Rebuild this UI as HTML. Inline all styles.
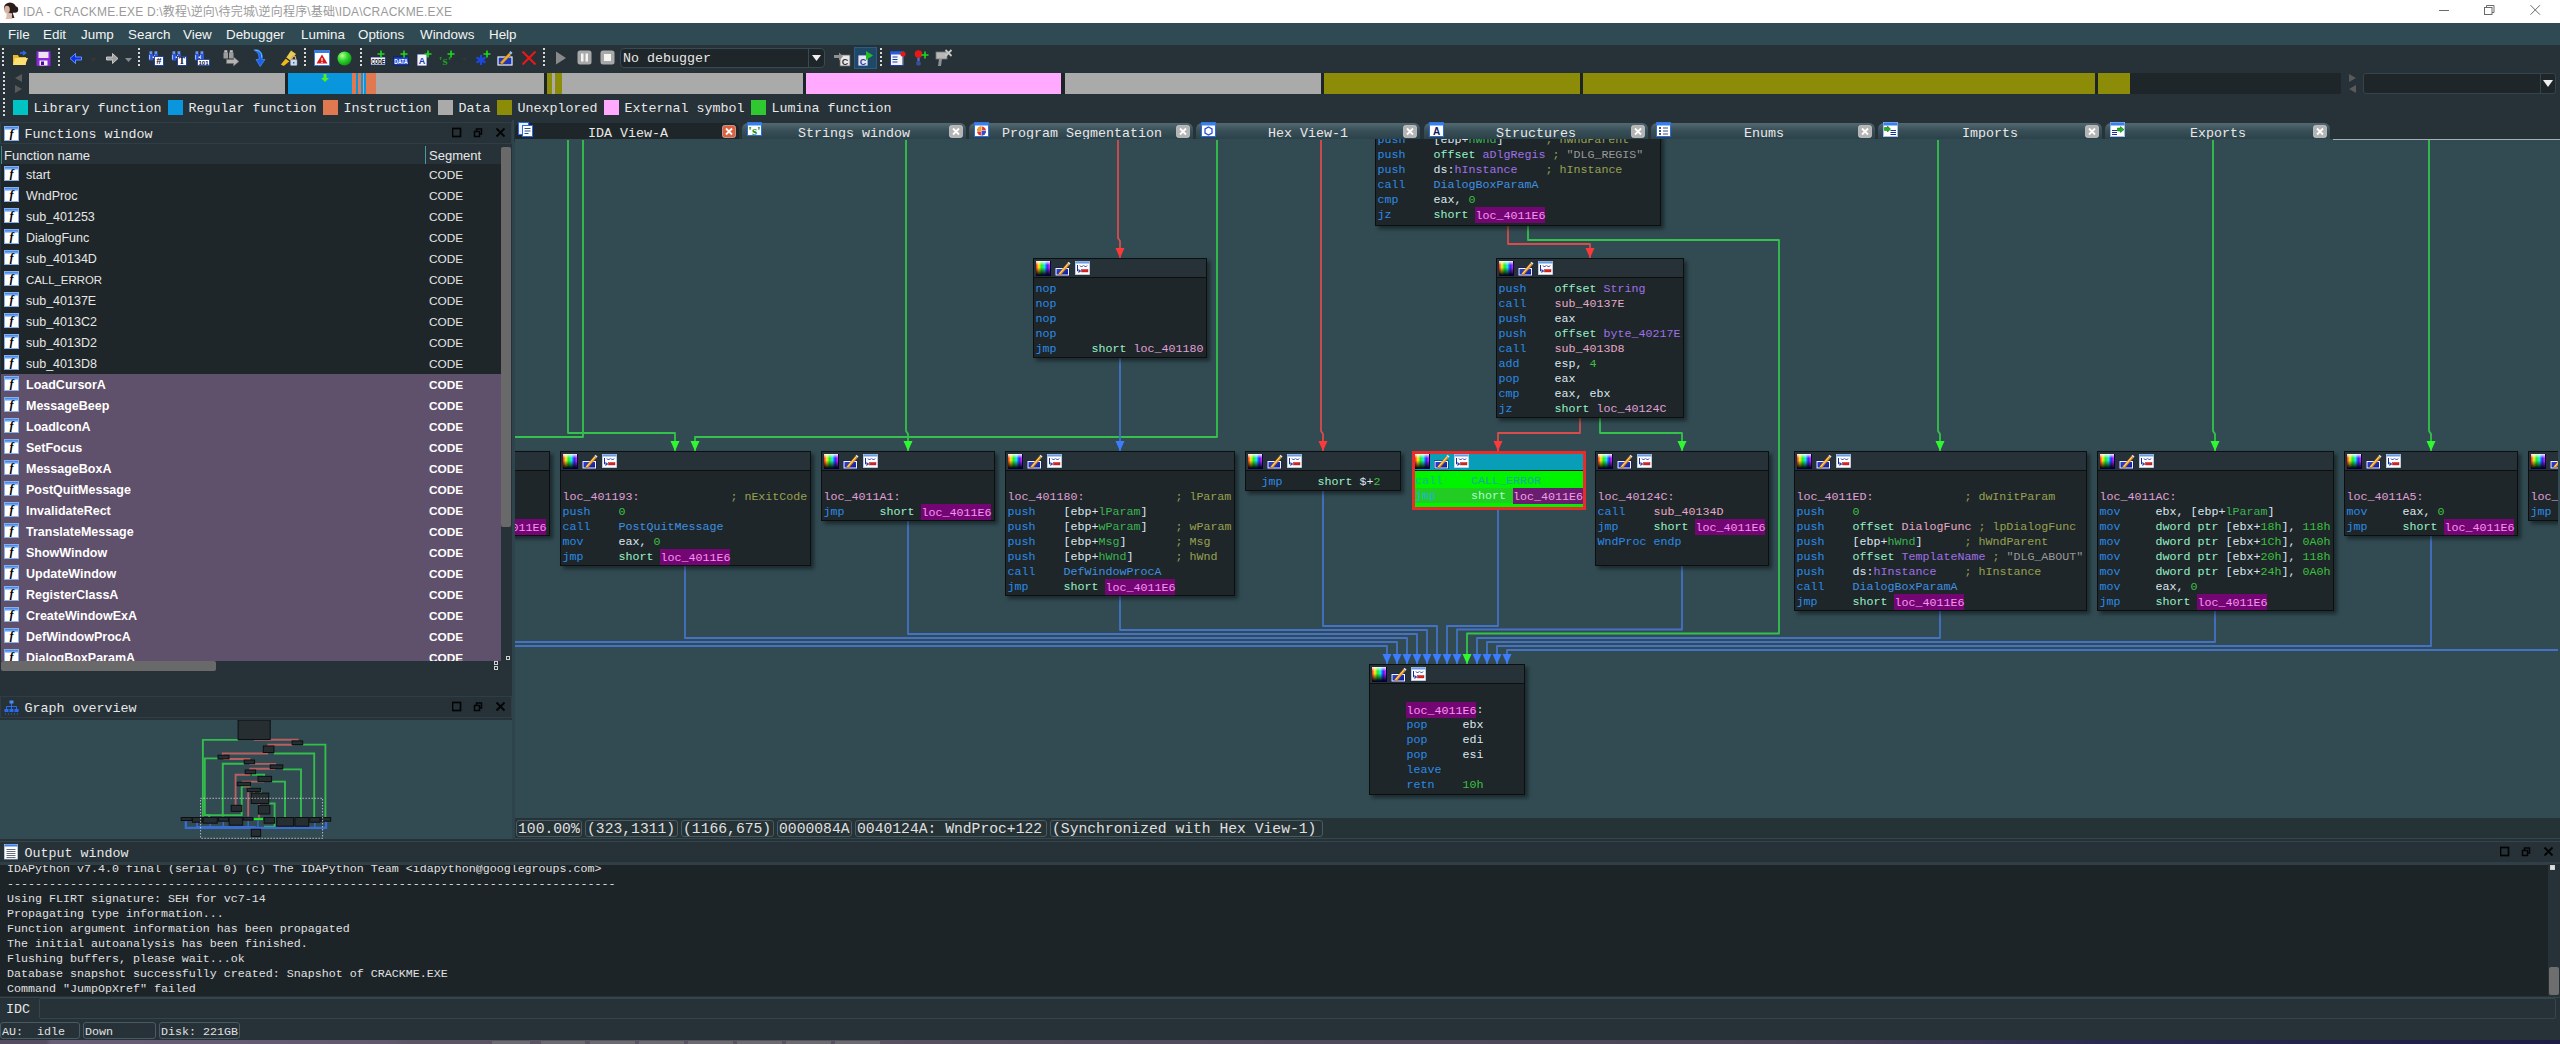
<!DOCTYPE html><html><head><meta charset="utf-8"><title>IDA - CRACKME.EXE</title><style>
*{box-sizing:border-box;margin:0;padding:0}
html,body{width:2560px;height:1044px;overflow:hidden;background:#263238}
body{position:relative;font-family:"Liberation Sans","Noto Sans CJK SC",sans-serif;color:#e6e6e6}
.a{position:absolute}
.sim{font-family:"Liberation Mono","Noto Sans CJK SC",monospace;font-size:13.33px;line-height:16px;color:#e8e8e8;white-space:pre}
.ui{font-family:"Liberation Sans","Noto Sans CJK SC",sans-serif;font-size:13px;white-space:pre}
.code{font-family:"Liberation Mono",monospace;font-size:11.67px;line-height:15px;white-space:pre;color:#dcdcdc}
.node{position:absolute;background:#1e2629;border:1px solid #0b0f10;box-shadow:3px 3px 4px rgba(0,0,0,.45)}
.nh{position:absolute;left:0;top:0;right:0;height:19px;background:#263238;border-bottom:1px solid #0b0f10}
.nb{position:absolute;left:1.5px;top:23px}
.m{color:#2c8ae8}.w{color:#dce6f0}.s{color:#98f0c8}.l{color:#e0a0d8}.h{color:#f894f0;background:#740674;padding:1.5px 0 .5px}
.n{color:#3cc040}.c{color:#98a050}.v{color:#3cb450}.d{color:#a070e8}.f{color:#e8a8c8}.p{color:#4090e0}.g{color:#989898}
.row{position:absolute;left:0;width:501px;height:21px}
.row span{position:absolute;top:3px;font-size:12.5px;line-height:17px}
.sel{background:#5f506b;font-weight:bold;color:#fff}
</style></head><body>
<div class="a" style="left:0px;top:0px;width:2560px;height:23px;background:#ffffff;"></div>
<svg class="a" style="left:1px;top:2px" width="18" height="18" viewBox="0 0 18 18"><ellipse cx="9" cy="6" rx="6" ry="5.500" fill="#2a1c18"/><circle cx="14" cy="7.500" r="3.200" fill="#2a1c18"/><path d="M11 9l2.500 7h-3z" fill="#3a2820"/><ellipse cx="6" cy="7.500" rx="2.800" ry="3.800" fill="#d8b4a0"/><path d="M5 10.500q2 2 4 0l2.500 6.500h-7q2-3 .5-6.500z" fill="#dcbcac"/></svg>
<div class="a ui" style="left:23px;top:4px;font-size:12px;line-height:17px;color:#9a9a9a;letter-spacing:.18px">IDA - CRACKME.EXE D:\教程\逆向\待完城\逆向程序\基础\IDA\CRACKME.EXE</div>
<svg class="a" style="left:2430px;top:0" width="130" height="23" viewBox="0 0 130 23" fill="none" stroke="#6a6a6a" stroke-width="1"><path d="M9 10.500h10"/><rect x="54.500" y="7.500" width="7.500" height="7"/><path d="M56.500 7.500v-2h7.500v7h-2"/><path d="M100.500 5.200l9.500 9.500M110 5.200l-9.500 9.500"/></svg>
<div class="a" style="left:0px;top:23px;width:2560px;height:23px;background:#2f4a52;border-bottom:1px solid #22343a"></div>
<div class="a ui" style="left:8px;top:26px;font-size:13.400px;line-height:17px;color:#f4f4f4">File</div>
<div class="a ui" style="left:43px;top:26px;font-size:13.400px;line-height:17px;color:#f4f4f4">Edit</div>
<div class="a ui" style="left:81px;top:26px;font-size:13.400px;line-height:17px;color:#f4f4f4">Jump</div>
<div class="a ui" style="left:128px;top:26px;font-size:13.400px;line-height:17px;color:#f4f4f4">Search</div>
<div class="a ui" style="left:183px;top:26px;font-size:13.400px;line-height:17px;color:#f4f4f4">View</div>
<div class="a ui" style="left:226px;top:26px;font-size:13.400px;line-height:17px;color:#f4f4f4">Debugger</div>
<div class="a ui" style="left:301px;top:26px;font-size:13.400px;line-height:17px;color:#f4f4f4">Lumina</div>
<div class="a ui" style="left:358px;top:26px;font-size:13.400px;line-height:17px;color:#f4f4f4">Options</div>
<div class="a ui" style="left:420px;top:26px;font-size:13.400px;line-height:17px;color:#f4f4f4">Windows</div>
<div class="a ui" style="left:489px;top:26px;font-size:13.400px;line-height:17px;color:#f4f4f4">Help</div>
<div class="a" style="left:0px;top:46px;width:2560px;height:24px;background:#263238;"></div>
<div class="a" style="left:0px;top:70px;width:2560px;height:26px;background:#263238;"></div>
<div class="a" style="left:0px;top:96px;width:2560px;height:24px;background:#263238;"></div>
<div class="a" style="left:2px;top:48px;width:2px;height:20px;background:repeating-linear-gradient(to bottom,#d8d8d8 0 2px,transparent 2px 4px)"></div>
<div class="a" style="left:58px;top:48px;width:2px;height:20px;background:repeating-linear-gradient(to bottom,#d8d8d8 0 2px,transparent 2px 4px)"></div>
<div class="a" style="left:138px;top:48px;width:2px;height:20px;background:repeating-linear-gradient(to bottom,#d8d8d8 0 2px,transparent 2px 4px)"></div>
<div class="a" style="left:304px;top:48px;width:2px;height:20px;background:repeating-linear-gradient(to bottom,#d8d8d8 0 2px,transparent 2px 4px)"></div>
<div class="a" style="left:360px;top:48px;width:2px;height:20px;background:repeating-linear-gradient(to bottom,#d8d8d8 0 2px,transparent 2px 4px)"></div>
<div class="a" style="left:543px;top:48px;width:2px;height:20px;background:repeating-linear-gradient(to bottom,#d8d8d8 0 2px,transparent 2px 4px)"></div>
<div class="a" style="left:880px;top:48px;width:2px;height:20px;background:repeating-linear-gradient(to bottom,#d8d8d8 0 2px,transparent 2px 4px)"></div>
<div class="a" style="left:3px;top:72px;width:2px;height:22px;background:repeating-linear-gradient(to bottom,#d8d8d8 0 2px,transparent 2px 4px)"></div>
<div class="a" style="left:3px;top:98px;width:2px;height:20px;background:repeating-linear-gradient(to bottom,#d8d8d8 0 2px,transparent 2px 4px)"></div>
<svg class="a" style="left:12px;top:50px" width="17" height="17" viewBox="0 0 17 17"><path d="M1 5h5l1 2h7v8H1z" fill="#e8b82c"/><path d="M3 8h13l-3 7H1z" fill="#ffe070"/><path d="M8 3h5M11 1l2.500 2-2.500 2" stroke="#2a6cf0" stroke-width="1.500" fill="none"/></svg>
<svg class="a" style="left:36px;top:50px" width="15" height="17" viewBox="0 0 15 17"><rect x="0.500" y="1" width="14" height="15" rx="1" fill="#8a28d8"/><rect x="2.500" y="2" width="10" height="6" fill="#f0e0f4"/><rect x="3.500" y="10.500" width="8" height="5" fill="#f4f0f8"/><rect x="5" y="11.500" width="3" height="3.500" fill="#4a1090"/></svg>
<svg class="a" style="left:69px;top:52px" width="14" height="13" viewBox="0 0 14 13"><path d="M1 6.500L6.500 1.500v3.500h6v3h-6V11.500z" fill="#1030e8" stroke="#6a9cff" stroke-width=".9"/></svg>
<svg class="a" style="left:90px;top:58px" width="8" height="5" viewBox="0 0 8 5"><path d="M0 0h7L3.500 4z" fill="#3a3434"/></svg>
<svg class="a" style="left:105px;top:52px" width="14" height="13" viewBox="0 0 14 13"><path d="M13 6.500L7.500 1.500v3.500h-6v3h6V11.500z" fill="#a0a0a0" stroke="#d0d0d0" stroke-width=".9"/></svg>
<svg class="a" style="left:125px;top:58px" width="8" height="5" viewBox="0 0 8 5"><path d="M0 0h7L3.500 4z" fill="#8a8a8a"/></svg>
<svg class="a" style="left:148px;top:49px" width="17" height="18" viewBox="0 0 17 18"><path d="M.8 5h4.200v6.500H.8zM5.800 5h4.200v6.500H5.800z" fill="#2c54d8"/><path d="M1.500 2.300h2.800V5H1.500zM6.500 2.300h2.800V5H6.500z" fill="#6c94f0"/><path d="M1.600 6v4.500M6.600 6v4.500" stroke="#a8c8ff" stroke-width="1"/><rect x="4.600" y="7.500" width="1.600" height="1.600" fill="#e8f0ff"/><rect x="6.500" y="7.500" width="9" height="9" fill="#ffffff" stroke="#1c3c9c" stroke-width=".9"/><text x="11" y="15.300" font-family="Liberation Sans" font-weight="bold" font-size="9.500" text-anchor="middle" fill="#0c1440">#</text></svg>
<svg class="a" style="left:171px;top:49px" width="17" height="18" viewBox="0 0 17 18"><path d="M.8 5h4.200v6.500H.8zM5.800 5h4.200v6.500H5.800z" fill="#2c54d8"/><path d="M1.500 2.300h2.800V5H1.500zM6.500 2.300h2.800V5H6.500z" fill="#6c94f0"/><path d="M1.600 6v4.500M6.600 6v4.500" stroke="#a8c8ff" stroke-width="1"/><rect x="4.600" y="7.500" width="1.600" height="1.600" fill="#e8f0ff"/><rect x="6.500" y="7.500" width="9" height="9" fill="#ffffff" stroke="#1c3c9c" stroke-width=".9"/><text x="11" y="15.300" font-family="Liberation Serif" font-weight="bold" font-size="9.500" text-anchor="middle" fill="#0c1440">T</text></svg>
<svg class="a" style="left:194px;top:49px" width="17" height="18" viewBox="0 0 17 18"><path d="M.8 5h4.200v6.500H.8zM5.800 5h4.200v6.500H5.800z" fill="#2c54d8"/><path d="M1.500 2.300h2.800V5H1.500zM6.500 2.300h2.800V5H6.500z" fill="#6c94f0"/><path d="M1.600 6v4.500M6.600 6v4.500" stroke="#a8c8ff" stroke-width="1"/><rect x="4.600" y="7.500" width="1.600" height="1.600" fill="#e8f0ff"/><rect x="3.500" y="10.500" width="12" height="6" fill="#ffffff" stroke="#1c3c9c" stroke-width=".8"/><text x="9.500" y="15.600" font-family="Liberation Sans" font-weight="bold" font-size="6" text-anchor="middle" fill="#0c1440">101</text></svg>
<svg class="a" style="left:223px;top:49px" width="17" height="18" viewBox="0 0 17 18"><path d="M.5 3.500h4.500v6H.5zM6 3.500h4.500v6H6z" fill="#9c9c9c"/><path d="M1.300 1.300h3v2.200h-3zM6.800 1.300h3v2.200h-3z" fill="#c4c4c4"/><path d="M3.500 10.500h7v-2.500l5.500 4.500-5.500 4.500v-2.500h-7z" fill="#b4b4b4" stroke="#6c6c6c" stroke-width=".7"/></svg>
<svg class="a" style="left:253px;top:48px" width="14" height="20" viewBox="0 0 14 20"><path d="M.8 2c6-1.500 9.500 3 8.200 9.500h3l-4.800 7-4.200-7h2.800c.8-4.500-1-7.500-5-9.500z" fill="#1c60f0" stroke="#58a0ff" stroke-width=".6"/><path d="M2.500 2.300c4 .2 6.500 3 6.200 7.500" stroke="#60c8ff" stroke-width="1" fill="none"/></svg>
<svg class="a" style="left:280px;top:49px" width="18" height="18" viewBox="0 0 18 18"><path d="M.8 15.500l5.500-6.500 3.500 3-6 5z" fill="#f0b818"/><path d="M6 9l5-7.500 5 3.500-6 7z" fill="#e8cc50"/><path d="M6 9l4 3" stroke="#2a2410" stroke-width="1.200"/><rect x="10.500" y="10.500" width="6.500" height="6" rx=".8" fill="#c8d8f0" stroke="#8898b8" stroke-width=".5"/><path d="M12 10.500V9a1.800 1.800 0 0 1 3.600 0v1.500" fill="none" stroke="#d0b070" stroke-width="1.200"/><rect x="13.300" y="13" width="1" height="1.500" fill="#203060"/></svg>
<svg class="a" style="left:314px;top:50px" width="16" height="16" viewBox="0 0 16 16"><rect x=".5" y=".5" width="15" height="15" fill="#ffffff" stroke="#3a7ce0"/><rect x=".5" y=".5" width="15" height="2.500" fill="#3a7ce0"/><path d="M8 4.500l5.500 9h-11z" fill="#d81818"/><rect x="7.400" y="8" width="1.200" height="3" fill="#fff"/><rect x="7.400" y="11.800" width="1.200" height="1.200" fill="#fff"/></svg>
<svg class="a" style="left:337px;top:51px" width="15" height="15" viewBox="0 0 15 15"><defs><radialGradient id="gb" cx=".35" cy=".3" r=".8"><stop offset="0" stop-color="#b8ff90"/><stop offset=".45" stop-color="#30d830"/><stop offset="1" stop-color="#0a8a10"/></radialGradient></defs><circle cx="7.500" cy="7.500" r="7" fill="url(#gb)"/></svg>
<svg class="a" style="left:370px;top:49px" width="17" height="18" viewBox="0 0 17 18"><rect x=".5" y="8" width="15" height="8" fill="#f4f4f4" stroke="#1c2c6c" stroke-width=".8"/><text x="8" y="15" font-family="Liberation Sans" font-weight="bold" font-size="7" text-anchor="middle" fill="#080c20" textLength="13.500" lengthAdjust="spacingAndGlyphs">CODE</text><path d="M11 1.5v7M7.5 5.0h7" stroke="#20d820" stroke-width="1.600" fill="none"/></svg>
<svg class="a" style="left:393px;top:49px" width="17" height="18" viewBox="0 0 17 18"><rect x=".5" y="8" width="15" height="8" fill="#1c48d8" stroke="#0c1c6c" stroke-width=".8"/><text x="8" y="15" font-family="Liberation Sans" font-weight="bold" font-size="7" text-anchor="middle" fill="#ffffff" textLength="13.500" lengthAdjust="spacingAndGlyphs">DATA</text><path d="M11 1.5v7M7.5 5.0h7" stroke="#20d820" stroke-width="1.600" fill="none"/></svg>
<svg class="a" style="left:416px;top:49px" width="17" height="18" viewBox="0 0 17 18"><rect x="1" y="5" width="10" height="12" fill="#f4f4f4" stroke="#1c2c6c" stroke-width=".8"/><text x="6" y="15" font-family="Liberation Sans" font-weight="bold" font-size="9" text-anchor="middle" fill="#1c3cb0">A</text><path d="M12 1.5v7M8.5 5.0h7" stroke="#20d820" stroke-width="1.600" fill="none"/></svg>
<svg class="a" style="left:439px;top:49px" width="17" height="18" viewBox="0 0 17 18"><text x="6" y="16" font-family="Liberation Serif" font-weight="bold" font-size="13.500" text-anchor="middle" fill="#1c9c1c">'s'</text><path d="M12 1.5v7M8.5 5.0h7" stroke="#20d820" stroke-width="1.600" fill="none"/></svg>
<svg class="a" style="left:462px;top:58px" width="6" height="4" viewBox="0 0 6 4"><path d="M0 0h5L2.500 3z" fill="#303838"/></svg>
<svg class="a" style="left:475px;top:49px" width="17" height="18" viewBox="0 0 17 18"><path d="M6 6v10M1.500 8.500l9 5M1.500 13.500l9-5" stroke="#1c48e0" stroke-width="2.200" fill="none"/><path d="M12 1.5v7M8.5 5.0h7" stroke="#20d820" stroke-width="1.600" fill="none"/></svg>
<svg class="a" style="left:497px;top:49px" width="17" height="18" viewBox="0 0 17 18"><rect x="1" y="8" width="14" height="8" fill="#1c38b8" stroke="#f0f0f8" stroke-width="1.200"/><path d="M3 13.500l9-9.500 2 2-9 9.500z" fill="#f0a828" stroke="#905010" stroke-width=".5"/><path d="M12 4l1.500-2 2 1.800-1.500 2z" fill="#90c8f8"/></svg>
<svg class="a" style="left:521px;top:50px" width="16" height="16" viewBox="0 0 16 16"><path d="M1.500 1.500l13 13M14.500 1.500l-13 13" stroke="#e81818" stroke-width="2.200" fill="none"/></svg>
<svg class="a" style="left:555px;top:51px" width="12" height="14" viewBox="0 0 12 14"><path d="M1 0.500L11 7 1 13.500z" fill="#8a8a8a"/></svg>
<svg class="a" style="left:577px;top:50px" width="15" height="15" viewBox="0 0 15 15"><rect x=".5" y=".5" width="14" height="14" rx="2.500" fill="#a8a8a8"/><rect x="4" y="3.500" width="2.500" height="8" fill="#f4f4f4"/><rect x="8.500" y="3.500" width="2.500" height="8" fill="#f4f4f4"/></svg>
<svg class="a" style="left:600px;top:50px" width="15" height="15" viewBox="0 0 15 15"><rect x=".5" y=".5" width="14" height="14" rx="2.500" fill="#a8a8a8"/><rect x="4" y="4" width="7" height="7" fill="#f4f4f4"/></svg>
<div class="a" style="left:620px;top:48px;width:205px;height:20px;background:#1e2629;border:1px solid #3a4a52;border-radius:4px"></div>
<div class="a sim" style="left:623px;top:51px;">No debugger</div>
<div class="a" style="left:808px;top:49px;width:1px;height:18px;background:#3a4a52"></div>
<svg class="a" style="left:812px;top:55px" width="10" height="7" viewBox="0 0 10 7"><path d="M0 0h9L4.500 6z" fill="#f0f0f0"/></svg>
<svg class="a" style="left:834px;top:50px" width="17" height="17" viewBox="0 0 17 17"><rect x="6" y="5" width="10" height="11" fill="#e8e8e8" stroke="#606060" stroke-width=".8"/><text x="11" y="14.500" font-family="Liberation Sans" font-weight="bold" font-size="9" text-anchor="middle" fill="#303030">C</text><path d="M0 5h5V2.500l4 4-4 4V8H0z" fill="#909090"/></svg>
<div class="a" style="left:854px;top:47px;width:23px;height:22px;background:#1e4868;border:1px solid #2c5a80"></div>
<svg class="a" style="left:857px;top:50px" width="17" height="17" viewBox="0 0 17 17"><rect x="1" y="5" width="10" height="11" fill="#e8e8e8" stroke="#204090" stroke-width=".8"/><text x="6" y="14.500" font-family="Liberation Sans" font-weight="bold" font-size="9" text-anchor="middle" fill="#1c3cb0">C</text><path d="M9 1l7 4.500-7 4.500z" fill="#20c020"/></svg>
<svg class="a" style="left:890px;top:50px" width="17" height="17" viewBox="0 0 17 17"><rect x=".5" y="1.500" width="13" height="14" fill="#f4f4f4" stroke="#1c3cb0" stroke-width="1"/><rect x=".5" y="1.500" width="13" height="3" fill="#2a5cd8"/><path d="M2.500 7h5M2.500 9.500h5M2.500 12h5" stroke="#1c3cb0" stroke-width="1.200"/><circle cx="13" cy="4" r="2.600" fill="#e81818"/><rect x="12.300" y="6" width="1.400" height="9" fill="#606878"/></svg>
<svg class="a" style="left:914px;top:49px" width="16" height="18" viewBox="0 0 16 18"><circle cx="4.500" cy="5" r="3.800" fill="#e81818"/><rect x="3.300" y="8.500" width="2.400" height="4" fill="#5a6cb0"/><rect x="2.300" y="12.500" width="4.400" height="4" rx="1" fill="#3a4c9c"/><path d="M11 2.5v7M7.5 6.0h7" stroke="#20d820" stroke-width="1.600" fill="none"/></svg>
<svg class="a" style="left:935px;top:49px" width="18" height="18" viewBox="0 0 18 18"><rect x="1" y="3" width="11" height="7" fill="#b8b8b8" stroke="#787878" stroke-width=".8"/><path d="M4 10h3l-1 7H3z" fill="#909090"/><path d="M10.500 1l6 6M16.500 1l-6 6" stroke="#c8c8c8" stroke-width="1.800"/></svg>
<svg class="a" style="left:14px;top:74px" width="9" height="20" viewBox="0 0 9 20"><path d="M8 0v8L1 4z" fill="#5a5a5a"/><path d="M1 11v8l7-4z" fill="#5a5a5a"/></svg>
<div class="a" style="left:29px;top:73px;width:2312px;height:21px;background:#1c2428;"></div>
<div class="a" style="left:29px;top:73px;width:256px;height:21px;background:#aaaaaa;"></div>
<div class="a" style="left:288px;top:73px;width:64px;height:21px;background:#0a96dc;"></div>
<div class="a" style="left:352px;top:73px;width:4px;height:21px;background:#e07850;"></div>
<div class="a" style="left:356px;top:73px;width:2px;height:21px;background:#0a96dc;"></div>
<div class="a" style="left:358px;top:73px;width:3px;height:21px;background:#e07850;"></div>
<div class="a" style="left:361px;top:73px;width:2px;height:21px;background:#0a96dc;"></div>
<div class="a" style="left:363px;top:73px;width:1px;height:21px;background:#aaaaaa;"></div>
<div class="a" style="left:364px;top:73px;width:2px;height:21px;background:#0a96dc;"></div>
<div class="a" style="left:366px;top:73px;width:10px;height:21px;background:#e07850;"></div>
<div class="a" style="left:376px;top:73px;width:168px;height:21px;background:#aaaaaa;"></div>
<div class="a" style="left:547px;top:73px;width:5px;height:21px;background:#8c8c08;"></div>
<div class="a" style="left:552px;top:73px;width:3px;height:21px;background:#aaaaaa;"></div>
<div class="a" style="left:555px;top:73px;width:7px;height:21px;background:#8c8c08;"></div>
<div class="a" style="left:562px;top:73px;width:241px;height:21px;background:#aaaaaa;"></div>
<div class="a" style="left:806px;top:73px;width:255px;height:21px;background:#ffaaff;"></div>
<div class="a" style="left:1065px;top:73px;width:256px;height:21px;background:#aaaaaa;"></div>
<div class="a" style="left:1324px;top:73px;width:256px;height:21px;background:#8c8c08;"></div>
<div class="a" style="left:1583px;top:73px;width:512px;height:21px;background:#8c8c08;"></div>
<div class="a" style="left:2098px;top:73px;width:32px;height:21px;background:#8c8c08;"></div>
<div class="a" style="left:2130px;top:73px;width:211px;height:21px;background:#1e2629;"></div>
<svg class="a" style="left:321px;top:74px" width="8" height="8" viewBox="0 0 8 8"><path d="M2.500 0h3v4H8L4 8 0 4h2.500z" fill="#50f020"/></svg>
<svg class="a" style="left:2348px;top:74px" width="9" height="20" viewBox="0 0 9 20"><path d="M1 0v8l7-4z" fill="#5a5a5a"/><path d="M8 11v8l-7-4z" fill="#5a5a5a"/></svg>
<div class="a" style="left:2363px;top:73px;width:193px;height:21px;background:#1e2629;border:1px solid #34444c;border-radius:3px"></div>
<div class="a" style="left:2540px;top:74px;width:1px;height:19px;background:#34444c"></div>
<svg class="a" style="left:2543px;top:80px" width="11" height="8" viewBox="0 0 11 8"><path d="M0 0h10L5 7z" fill="#f0f0f0"/></svg>
<div class="a" style="left:13px;top:100px;width:15px;height:15px;background:#00c4c4;"></div>
<div class="a sim" style="left:33.5px;top:101px;">Library function</div>
<div class="a" style="left:168.0px;top:100px;width:15px;height:15px;background:#0a96dc;"></div>
<div class="a sim" style="left:188.5px;top:101px;">Regular function</div>
<div class="a" style="left:323.0px;top:100px;width:15px;height:15px;background:#e07850;"></div>
<div class="a sim" style="left:343.5px;top:101px;">Instruction</div>
<div class="a" style="left:438.0px;top:100px;width:15px;height:15px;background:#aaaaaa;"></div>
<div class="a sim" style="left:458.5px;top:101px;">Data</div>
<div class="a" style="left:497.0px;top:100px;width:15px;height:15px;background:#8c8c08;"></div>
<div class="a sim" style="left:517.5px;top:101px;">Unexplored</div>
<div class="a" style="left:604.0px;top:100px;width:15px;height:15px;background:#ffaaff;"></div>
<div class="a sim" style="left:624.5px;top:101px;">External symbol</div>
<div class="a" style="left:751.0px;top:100px;width:15px;height:15px;background:#30c830;"></div>
<div class="a sim" style="left:771.5px;top:101px;">Lumina function</div>
<div class="a" style="left:0px;top:120px;width:515px;height:720px;background:#263238;"></div>
<div class="a" style="left:512px;top:120px;width:3px;height:720px;background:#2e444c;"></div>
<div class="a" style="left:0px;top:122px;width:512px;height:22px;background:#263238;border:1px solid #2e3e44"></div>
<div class="a" style="left:4px;top:126px;width:15px;height:15px;background:linear-gradient(#3a7ce8 0,#7ab4f8 2px,#fff 3.5px);border:1px solid #8ab0ec;color:#000;font:italic bold 12px/11px 'Liberation Serif',serif;text-align:center;padding-top:2px;overflow:hidden">f</div>
<div class="a sim" style="left:24.5px;top:126.5px;">Functions window</div>
<svg class="a" style="left:452px;top:127px" width="56" height="12" viewBox="0 0 56 12"><rect x=".5" y="1.500" width="8" height="8" fill="none" stroke="#040404" stroke-width="1.700"/><path d="M22.500 4.500h5v5h-5zM24.500 4.500v-2.500h5v5h-2" fill="none" stroke="#040404" stroke-width="1.500"/><path d="M44.500 1.500l8 8M52.500 1.500l-8 8" stroke="#040404" stroke-width="1.800" fill="none"/></svg>
<div class="a" style="left:1px;top:146px;width:500px;height:18px;background:#263238;border-left:1px solid #3c8c8c"></div>
<div class="a ui" style="left:4px;top:148px;font-size:13px;line-height:16px;color:#e8e8e8">Function name</div>
<div class="a" style="left:425px;top:146px;width:1px;height:18px;background:#4a9c9c;"></div>
<div class="a ui" style="left:429px;top:148px;font-size:13px;line-height:16px;color:#e8e8e8">Segment</div>
<div class="a" style="left:1px;top:164px;width:500px;height:497px;background:#1e2629;overflow:hidden">
<div class="row" style="top:0px"><div class="a" style="left:3px;top:2px;width:15px;height:15px;background:linear-gradient(#3a7ce8 0,#7ab4f8 2px,#fff 3.5px);border:1px solid #8ab0ec;color:#000;font:italic bold 12px/11px 'Liberation Serif',serif;text-align:center;padding-top:2px;overflow:hidden">f</div><span style="left:25px">start</span><span style="left:428px;font-size:11.800px">CODE</span></div>
<div class="row" style="top:21px"><div class="a" style="left:3px;top:2px;width:15px;height:15px;background:linear-gradient(#3a7ce8 0,#7ab4f8 2px,#fff 3.5px);border:1px solid #8ab0ec;color:#000;font:italic bold 12px/11px 'Liberation Serif',serif;text-align:center;padding-top:2px;overflow:hidden">f</div><span style="left:25px">WndProc</span><span style="left:428px;font-size:11.800px">CODE</span></div>
<div class="row" style="top:42px"><div class="a" style="left:3px;top:2px;width:15px;height:15px;background:linear-gradient(#3a7ce8 0,#7ab4f8 2px,#fff 3.5px);border:1px solid #8ab0ec;color:#000;font:italic bold 12px/11px 'Liberation Serif',serif;text-align:center;padding-top:2px;overflow:hidden">f</div><span style="left:25px">sub_401253</span><span style="left:428px;font-size:11.800px">CODE</span></div>
<div class="row" style="top:63px"><div class="a" style="left:3px;top:2px;width:15px;height:15px;background:linear-gradient(#3a7ce8 0,#7ab4f8 2px,#fff 3.5px);border:1px solid #8ab0ec;color:#000;font:italic bold 12px/11px 'Liberation Serif',serif;text-align:center;padding-top:2px;overflow:hidden">f</div><span style="left:25px">DialogFunc</span><span style="left:428px;font-size:11.800px">CODE</span></div>
<div class="row" style="top:84px"><div class="a" style="left:3px;top:2px;width:15px;height:15px;background:linear-gradient(#3a7ce8 0,#7ab4f8 2px,#fff 3.5px);border:1px solid #8ab0ec;color:#000;font:italic bold 12px/11px 'Liberation Serif',serif;text-align:center;padding-top:2px;overflow:hidden">f</div><span style="left:25px">sub_40134D</span><span style="left:428px;font-size:11.800px">CODE</span></div>
<div class="row" style="top:105px"><div class="a" style="left:3px;top:2px;width:15px;height:15px;background:linear-gradient(#3a7ce8 0,#7ab4f8 2px,#fff 3.5px);border:1px solid #8ab0ec;color:#000;font:italic bold 12px/11px 'Liberation Serif',serif;text-align:center;padding-top:2px;overflow:hidden">f</div><span style="left:25px;font-size:11.400px">CALL_ERROR</span><span style="left:428px;font-size:11.800px">CODE</span></div>
<div class="row" style="top:126px"><div class="a" style="left:3px;top:2px;width:15px;height:15px;background:linear-gradient(#3a7ce8 0,#7ab4f8 2px,#fff 3.5px);border:1px solid #8ab0ec;color:#000;font:italic bold 12px/11px 'Liberation Serif',serif;text-align:center;padding-top:2px;overflow:hidden">f</div><span style="left:25px">sub_40137E</span><span style="left:428px;font-size:11.800px">CODE</span></div>
<div class="row" style="top:147px"><div class="a" style="left:3px;top:2px;width:15px;height:15px;background:linear-gradient(#3a7ce8 0,#7ab4f8 2px,#fff 3.5px);border:1px solid #8ab0ec;color:#000;font:italic bold 12px/11px 'Liberation Serif',serif;text-align:center;padding-top:2px;overflow:hidden">f</div><span style="left:25px">sub_4013C2</span><span style="left:428px;font-size:11.800px">CODE</span></div>
<div class="row" style="top:168px"><div class="a" style="left:3px;top:2px;width:15px;height:15px;background:linear-gradient(#3a7ce8 0,#7ab4f8 2px,#fff 3.5px);border:1px solid #8ab0ec;color:#000;font:italic bold 12px/11px 'Liberation Serif',serif;text-align:center;padding-top:2px;overflow:hidden">f</div><span style="left:25px">sub_4013D2</span><span style="left:428px;font-size:11.800px">CODE</span></div>
<div class="row" style="top:189px"><div class="a" style="left:3px;top:2px;width:15px;height:15px;background:linear-gradient(#3a7ce8 0,#7ab4f8 2px,#fff 3.5px);border:1px solid #8ab0ec;color:#000;font:italic bold 12px/11px 'Liberation Serif',serif;text-align:center;padding-top:2px;overflow:hidden">f</div><span style="left:25px">sub_4013D8</span><span style="left:428px;font-size:11.800px">CODE</span></div>
<div class="row sel" style="top:210px"><div class="a" style="left:3px;top:2px;width:15px;height:15px;background:linear-gradient(#3a7ce8 0,#7ab4f8 2px,#fff 3.5px);border:1px solid #8ab0ec;color:#000;font:italic bold 12px/11px 'Liberation Serif',serif;text-align:center;padding-top:2px;overflow:hidden">f</div><span style="left:25px">LoadCursorA</span><span style="left:428px;font-size:11.800px">CODE</span></div>
<div class="row sel" style="top:231px"><div class="a" style="left:3px;top:2px;width:15px;height:15px;background:linear-gradient(#3a7ce8 0,#7ab4f8 2px,#fff 3.5px);border:1px solid #8ab0ec;color:#000;font:italic bold 12px/11px 'Liberation Serif',serif;text-align:center;padding-top:2px;overflow:hidden">f</div><span style="left:25px">MessageBeep</span><span style="left:428px;font-size:11.800px">CODE</span></div>
<div class="row sel" style="top:252px"><div class="a" style="left:3px;top:2px;width:15px;height:15px;background:linear-gradient(#3a7ce8 0,#7ab4f8 2px,#fff 3.5px);border:1px solid #8ab0ec;color:#000;font:italic bold 12px/11px 'Liberation Serif',serif;text-align:center;padding-top:2px;overflow:hidden">f</div><span style="left:25px">LoadIconA</span><span style="left:428px;font-size:11.800px">CODE</span></div>
<div class="row sel" style="top:273px"><div class="a" style="left:3px;top:2px;width:15px;height:15px;background:linear-gradient(#3a7ce8 0,#7ab4f8 2px,#fff 3.5px);border:1px solid #8ab0ec;color:#000;font:italic bold 12px/11px 'Liberation Serif',serif;text-align:center;padding-top:2px;overflow:hidden">f</div><span style="left:25px">SetFocus</span><span style="left:428px;font-size:11.800px">CODE</span></div>
<div class="row sel" style="top:294px"><div class="a" style="left:3px;top:2px;width:15px;height:15px;background:linear-gradient(#3a7ce8 0,#7ab4f8 2px,#fff 3.5px);border:1px solid #8ab0ec;color:#000;font:italic bold 12px/11px 'Liberation Serif',serif;text-align:center;padding-top:2px;overflow:hidden">f</div><span style="left:25px">MessageBoxA</span><span style="left:428px;font-size:11.800px">CODE</span></div>
<div class="row sel" style="top:315px"><div class="a" style="left:3px;top:2px;width:15px;height:15px;background:linear-gradient(#3a7ce8 0,#7ab4f8 2px,#fff 3.5px);border:1px solid #8ab0ec;color:#000;font:italic bold 12px/11px 'Liberation Serif',serif;text-align:center;padding-top:2px;overflow:hidden">f</div><span style="left:25px">PostQuitMessage</span><span style="left:428px;font-size:11.800px">CODE</span></div>
<div class="row sel" style="top:336px"><div class="a" style="left:3px;top:2px;width:15px;height:15px;background:linear-gradient(#3a7ce8 0,#7ab4f8 2px,#fff 3.5px);border:1px solid #8ab0ec;color:#000;font:italic bold 12px/11px 'Liberation Serif',serif;text-align:center;padding-top:2px;overflow:hidden">f</div><span style="left:25px">InvalidateRect</span><span style="left:428px;font-size:11.800px">CODE</span></div>
<div class="row sel" style="top:357px"><div class="a" style="left:3px;top:2px;width:15px;height:15px;background:linear-gradient(#3a7ce8 0,#7ab4f8 2px,#fff 3.5px);border:1px solid #8ab0ec;color:#000;font:italic bold 12px/11px 'Liberation Serif',serif;text-align:center;padding-top:2px;overflow:hidden">f</div><span style="left:25px">TranslateMessage</span><span style="left:428px;font-size:11.800px">CODE</span></div>
<div class="row sel" style="top:378px"><div class="a" style="left:3px;top:2px;width:15px;height:15px;background:linear-gradient(#3a7ce8 0,#7ab4f8 2px,#fff 3.5px);border:1px solid #8ab0ec;color:#000;font:italic bold 12px/11px 'Liberation Serif',serif;text-align:center;padding-top:2px;overflow:hidden">f</div><span style="left:25px">ShowWindow</span><span style="left:428px;font-size:11.800px">CODE</span></div>
<div class="row sel" style="top:399px"><div class="a" style="left:3px;top:2px;width:15px;height:15px;background:linear-gradient(#3a7ce8 0,#7ab4f8 2px,#fff 3.5px);border:1px solid #8ab0ec;color:#000;font:italic bold 12px/11px 'Liberation Serif',serif;text-align:center;padding-top:2px;overflow:hidden">f</div><span style="left:25px">UpdateWindow</span><span style="left:428px;font-size:11.800px">CODE</span></div>
<div class="row sel" style="top:420px"><div class="a" style="left:3px;top:2px;width:15px;height:15px;background:linear-gradient(#3a7ce8 0,#7ab4f8 2px,#fff 3.5px);border:1px solid #8ab0ec;color:#000;font:italic bold 12px/11px 'Liberation Serif',serif;text-align:center;padding-top:2px;overflow:hidden">f</div><span style="left:25px">RegisterClassA</span><span style="left:428px;font-size:11.800px">CODE</span></div>
<div class="row sel" style="top:441px"><div class="a" style="left:3px;top:2px;width:15px;height:15px;background:linear-gradient(#3a7ce8 0,#7ab4f8 2px,#fff 3.5px);border:1px solid #8ab0ec;color:#000;font:italic bold 12px/11px 'Liberation Serif',serif;text-align:center;padding-top:2px;overflow:hidden">f</div><span style="left:25px">CreateWindowExA</span><span style="left:428px;font-size:11.800px">CODE</span></div>
<div class="row sel" style="top:462px"><div class="a" style="left:3px;top:2px;width:15px;height:15px;background:linear-gradient(#3a7ce8 0,#7ab4f8 2px,#fff 3.5px);border:1px solid #8ab0ec;color:#000;font:italic bold 12px/11px 'Liberation Serif',serif;text-align:center;padding-top:2px;overflow:hidden">f</div><span style="left:25px">DefWindowProcA</span><span style="left:428px;font-size:11.800px">CODE</span></div>
<div class="row sel" style="top:483px"><div class="a" style="left:3px;top:2px;width:15px;height:15px;background:linear-gradient(#3a7ce8 0,#7ab4f8 2px,#fff 3.5px);border:1px solid #8ab0ec;color:#000;font:italic bold 12px/11px 'Liberation Serif',serif;text-align:center;padding-top:2px;overflow:hidden">f</div><span style="left:25px">DialogBoxParamA</span><span style="left:428px;font-size:11.800px">CODE</span></div>
</div>
<div class="a" style="left:501px;top:146px;width:10px;height:514px;background:#263238;"></div>
<div class="a" style="left:501px;top:147px;width:10px;height:380px;background:#696969;border-radius:2px"></div>
<svg class="a" style="left:506px;top:656px" width="5" height="5" viewBox="0 0 5 5"><rect x=".5" y=".5" width="3" height="3" fill="none" stroke="#d0d0d0"/></svg>
<div class="a" style="left:1px;top:661px;width:500px;height:10px;background:#263238;"></div>
<div class="a" style="left:1px;top:661px;width:215px;height:10px;background:#696969;border-radius:2px"></div>
<svg class="a" style="left:494px;top:661px" width="5" height="10" viewBox="0 0 5 10"><rect x=".5" y=".5" width="3" height="3" fill="none" stroke="#d0d0d0"/><rect x=".5" y="5.500" width="3" height="3" fill="none" stroke="#d0d0d0"/></svg>
<div class="a" style="left:0px;top:696px;width:512px;height:22px;background:#263238;border:1px solid #2e3e44"></div>
<svg class="a" style="left:4px;top:700px" width="15" height="15" viewBox="0 0 15 15"><path d="M7.500 3v3M2.500 9V6.500h10V9M7.500 6.500V9" stroke="#2a6cf0" fill="none"/><rect x="5.500" y="0.500" width="4" height="3" fill="#4a8cf0"/><rect x="0.500" y="9" width="4" height="3" fill="#2a6cf0"/><rect x="5.500" y="9" width="4" height="3" fill="#2a6cf0"/><rect x="10.500" y="9" width="4" height="3" fill="#2a6cf0"/><path d="M1 14h1M4 14h1M7 14h1M10 14h1M13 14h1" stroke="#2a6cf0"/></svg>
<div class="a sim" style="left:24.5px;top:701px;">Graph overview</div>
<svg class="a" style="left:452px;top:701px" width="56" height="12" viewBox="0 0 56 12"><rect x=".5" y="1.500" width="8" height="8" fill="none" stroke="#040404" stroke-width="1.700"/><path d="M22.500 4.500h5v5h-5zM24.500 4.500v-2.500h5v5h-2" fill="none" stroke="#040404" stroke-width="1.500"/><path d="M44.500 1.500l8 8M52.500 1.500l-8 8" stroke="#040404" stroke-width="1.800" fill="none"/></svg>
<div class="a" style="left:0px;top:720px;width:512px;height:119px;background:#324b53;"></div>
<svg class="a" style="left:0px;top:720px" width="512" height="119" viewBox="0 0 512 119"><path d="M238.1 19.9 L202.9 19.9 L202.9 96.5" stroke="#34bc4c" stroke-width="1.9" fill="none"/><path d="M218.4 38.4 L204.8 38.4 L204.8 95.1 L209.2 95.1 L209.2 97.1" stroke="#34bc4c" stroke-width="1.9" fill="none"/><path d="M244.2 43.7 L222.8 43.7 L222.8 96.5" stroke="#34bc4c" stroke-width="1.9" fill="none"/><path d="M302.7 24.6 L325.4 24.6 L325.4 97.1" stroke="#34bc4c" stroke-width="1.9" fill="none"/><path d="M273.8 33.5 L314.2 33.5 L314.2 97.1" stroke="#34bc4c" stroke-width="1.9" fill="none"/><path d="M282.8 49.4 L301.0 49.4 L301.0 97.1" stroke="#34bc4c" stroke-width="1.9" fill="none"/><path d="M271.6 61.6 L285.0 61.6 L285.0 97.1" stroke="#34bc4c" stroke-width="1.9" fill="none"/><path d="M250.5 66.6 L241.7 66.6 L241.7 95.1 L205.2 95.1" stroke="#34bc4c" stroke-width="1.9" fill="none"/><path d="M251.9 54.7 L264.1 54.7 L264.1 56.3" stroke="#34bc4c" stroke-width="1.9" fill="none"/><path d="M268.7 83.5 L274.6 83.5 L274.6 106.7 L264.1 106.7" stroke="#34bc4c" stroke-width="1.9" fill="none"/><path d="M260.6 69.7 L260.6 73.1" stroke="#34bc4c" stroke-width="1.9" fill="none"/><path d="M253.9 19.7 L297.6 19.7 L297.6 20.9" stroke="#b86060" stroke-width="1.9" fill="none"/><path d="M292.5 24.8 L268.5 24.8 L268.5 26.0" stroke="#b86060" stroke-width="1.9" fill="none"/><path d="M268.1 33.5 L222.8 33.5 L222.8 35.2" stroke="#b86060" stroke-width="1.9" fill="none"/><path d="M223.4 39.0 L249.4 39.0 L249.4 40.0" stroke="#b86060" stroke-width="1.9" fill="none"/><path d="M249.4 43.9 L275.2 43.9 L275.2 44.9" stroke="#b86060" stroke-width="1.9" fill="none"/><path d="M275.2 48.8 L250.3 48.8 L250.3 50.0" stroke="#b86060" stroke-width="1.9" fill="none"/><path d="M250.3 54.7 L235.6 54.7 L235.6 85.3" stroke="#b86060" stroke-width="1.9" fill="none"/><path d="M264.1 61.6 L242.7 61.6 L242.7 62.2" stroke="#b86060" stroke-width="1.9" fill="none"/><path d="M243.8 66.0 L248.2 66.0 L248.2 96.5" stroke="#b86060" stroke-width="1.9" fill="none"/><path d="M253.9 71.5 L253.9 73.1" stroke="#b86060" stroke-width="1.9" fill="none"/><path d="M259.0 83.5 L259.0 85.3" stroke="#b86060" stroke-width="1.9" fill="none"/><path d="M259.0 94.5 L259.0 97.5" stroke="#b86060" stroke-width="1.9" fill="none"/><path d="M185.9 101.2 L185.9 107.9 L326.0 107.9 L326.0 101.6" stroke="#3a6cd0" stroke-width="2.4" fill="none"/><path d="M197.0 102.2 L197.0 106.7 L254.9 106.7 L254.9 109.3" stroke="#3a6cd0" stroke-width="1.6" fill="none"/><path d="M210.2 103.2 L210.2 106.7" stroke="#3a6cd0" stroke-width="1.4" fill="none"/><path d="M223.4 101.6 L223.4 106.7" stroke="#3a6cd0" stroke-width="1.4" fill="none"/><path d="M235.6 105.2 L235.6 107.9" stroke="#3a6cd0" stroke-width="1.4" fill="none"/><path d="M248.2 100.6 L248.2 106.7" stroke="#3a6cd0" stroke-width="1.4" fill="none"/><path d="M258.0 100.6 L258.0 109.3" stroke="#3a6cd0" stroke-width="1.4" fill="none"/><path d="M285.0 106.3 L285.0 107.9" stroke="#3a6cd0" stroke-width="1.4" fill="none"/><path d="M301.6 106.3 L301.6 107.9" stroke="#3a6cd0" stroke-width="1.4" fill="none"/><path d="M314.8 102.2 L314.8 107.9" stroke="#3a6cd0" stroke-width="1.4" fill="none"/><rect x="238.1" y="0.0" width="32.1" height="19.5" fill="#262e31" stroke="#0c1012" stroke-width="1"/><rect x="292.1" y="20.9" width="10.6" height="3.7" fill="#262e31" stroke="#0c1012" stroke-width="1"/><rect x="263.3" y="26.0" width="10.6" height="6.5" fill="#262e31" stroke="#0c1012" stroke-width="1"/><rect x="218.0" y="35.2" width="11.0" height="3.7" fill="#262e31" stroke="#0c1012" stroke-width="1"/><rect x="244.2" y="40.0" width="10.4" height="3.7" fill="#262e31" stroke="#0c1012" stroke-width="1"/><rect x="270.2" y="44.9" width="12.6" height="3.7" fill="#262e31" stroke="#0c1012" stroke-width="1"/><rect x="245.2" y="50.0" width="10.4" height="3.7" fill="#262e31" stroke="#0c1012" stroke-width="1"/><rect x="258.0" y="56.3" width="13.6" height="5.3" fill="#262e31" stroke="#0c1012" stroke-width="1"/><rect x="237.3" y="62.2" width="13.2" height="3.5" fill="#262e31" stroke="#0c1012" stroke-width="1"/><rect x="247.2" y="68.3" width="13.4" height="3.3" fill="#262e31" stroke="#0c1012" stroke-width="1"/><rect x="251.3" y="73.1" width="17.5" height="10.4" fill="#262e31" stroke="#0c1012" stroke-width="1"/><rect x="231.2" y="85.3" width="10.6" height="6.1" fill="#262e31" stroke="#0c1012" stroke-width="1"/><rect x="258.4" y="85.3" width="11.4" height="8.7" fill="#262e31" stroke="#0c1012" stroke-width="1"/><rect x="181.2" y="97.5" width="10.8" height="3.0" fill="#262e31" stroke="#0c1012" stroke-width="1"/><rect x="192.4" y="97.5" width="9.8" height="4.7" fill="#262e31" stroke="#0c1012" stroke-width="1"/><rect x="203.1" y="97.5" width="14.2" height="5.7" fill="#262e31" stroke="#0c1012" stroke-width="1"/><rect x="218.4" y="97.5" width="10.2" height="3.7" fill="#262e31" stroke="#0c1012" stroke-width="1"/><rect x="229.1" y="97.5" width="13.6" height="7.7" fill="#262e31" stroke="#0c1012" stroke-width="1"/><rect x="243.3" y="97.5" width="9.5" height="2.6" fill="#262e31" stroke="#0c1012" stroke-width="1"/><rect x="264.1" y="97.5" width="10.6" height="5.7" fill="#262e31" stroke="#0c1012" stroke-width="1"/><rect x="276.7" y="97.5" width="16.9" height="8.7" fill="#262e31" stroke="#0c1012" stroke-width="1"/><rect x="294.9" y="97.5" width="13.8" height="8.7" fill="#262e31" stroke="#0c1012" stroke-width="1"/><rect x="309.8" y="97.5" width="10.2" height="4.7" fill="#262e31" stroke="#0c1012" stroke-width="1"/><rect x="320.9" y="97.5" width="9.8" height="3.7" fill="#262e31" stroke="#0c1012" stroke-width="1"/><rect x="251.3" y="109.3" width="9.3" height="7.1" fill="#262e31" stroke="#0c1012" stroke-width="1"/><rect x="253.9" y="98.1" width="9.1" height="2.0" fill="#20f020"/><rect x="200.6" y="78.3" width="122" height="40" fill="none" stroke="#f0f0f0" stroke-width="1" stroke-dasharray="1 2"/></svg>
<div class="a" style="left:514px;top:120px;width:2046px;height:22px;background:#263238;"></div>
<div class="a" style="left:515px;top:123px;width:224px;height:16px;background:#1e2629;border-radius:6px 6px 0 0"></div>
<svg class="a" style="left:518px;top:122px" width="16" height="16" viewBox="0 0 16 16"><rect x="0.500" y="0.500" width="10" height="12" fill="#eaf2ff" stroke="#2a6ce0"/><rect x="4.500" y="3.500" width="10" height="11" fill="#ffffff" stroke="#2a6ce0"/><path d="M6.500 6.500h6M6.500 9h6M6.500 11.500h4" stroke="#305080"/></svg>
<div class="a sim" style="left:588px;top:126px;">IDA View-A</div>
<svg class="a" style="left:722px;top:125px" width="14" height="13" viewBox="0 0 14 13"><rect x=".5" y=".5" width="13" height="12" rx="2" fill="#e0603c" stroke="#f0f0f0" stroke-opacity=".5"/><path d="M4 3.500l6 6M10 3.500l-6 6" stroke="#fff" stroke-width="1.800"/></svg>
<div class="a" style="left:742px;top:123px;width:224px;height:16px;background:linear-gradient(#546a72,#3a5058 45%,#2c424a);border-radius:6px 6px 0 0"></div>
<svg class="a" style="left:746.5px;top:122px" width="16" height="16" viewBox="0 0 16 16"><rect x="0.500" y="0.500" width="14" height="13" fill="#ffffff" stroke="#2a6ce0"/><rect x="0.500" y="0.500" width="14" height="3" fill="#3a80e8"/><text x="7.500" y="12.500" font-family="Liberation Serif" font-weight="bold" font-size="13" text-anchor="middle" fill="#189018">'s'</text></svg>
<div class="a sim" style="left:798px;top:126px;">Strings window</div>
<svg class="a" style="left:949px;top:125px" width="14" height="13" viewBox="0 0 14 13"><rect x=".5" y=".5" width="13" height="12" rx="2" fill="#b4b4b4" stroke="#f0f0f0" stroke-opacity=".5"/><path d="M4 3.500l6 6M10 3.500l-6 6" stroke="#fff" stroke-width="1.800"/></svg>
<div class="a" style="left:969px;top:123px;width:224px;height:16px;background:linear-gradient(#546a72,#3a5058 45%,#2c424a);border-radius:6px 6px 0 0"></div>
<svg class="a" style="left:973.5px;top:122px" width="16" height="16" viewBox="0 0 16 16"><rect x="0.500" y="0.500" width="14" height="14" fill="#ffffff" stroke="#2a6ce0"/><rect x="0.500" y="0.500" width="14" height="3" fill="#3a80e8"/><circle cx="7.500" cy="9" r="4.500" fill="#e03030"/><path d="M7.500 4.500v9M3 9h9" stroke="#fff" stroke-width="1.200"/><path d="M7.500 9h4.500a4.500 4.500 0 0 1-4.500 4.500z" fill="#2a50d8"/><path d="M7.500 9V4.500A4.500 4.500 0 0 0 3 9z" fill="#f0a020"/></svg>
<div class="a sim" style="left:1002px;top:126px;">Program Segmentation</div>
<svg class="a" style="left:1176px;top:125px" width="14" height="13" viewBox="0 0 14 13"><rect x=".5" y=".5" width="13" height="12" rx="2" fill="#b4b4b4" stroke="#f0f0f0" stroke-opacity=".5"/><path d="M4 3.500l6 6M10 3.500l-6 6" stroke="#fff" stroke-width="1.800"/></svg>
<div class="a" style="left:1196px;top:123px;width:224px;height:16px;background:linear-gradient(#546a72,#3a5058 45%,#2c424a);border-radius:6px 6px 0 0"></div>
<svg class="a" style="left:1200.5px;top:122px" width="16" height="16" viewBox="0 0 16 16"><rect x="0.500" y="0.500" width="14" height="14" fill="#ffffff" stroke="#2a6ce0"/><rect x="0.500" y="0.500" width="14" height="3" fill="#3a80e8"/><path d="M7.500 5l3.500 2v4l-3.500 2-3.500-2V7z" fill="none" stroke="#2a50d8" stroke-width="1.300"/></svg>
<div class="a sim" style="left:1268px;top:126px;">Hex View-1</div>
<svg class="a" style="left:1403px;top:125px" width="14" height="13" viewBox="0 0 14 13"><rect x=".5" y=".5" width="13" height="12" rx="2" fill="#b4b4b4" stroke="#f0f0f0" stroke-opacity=".5"/><path d="M4 3.500l6 6M10 3.500l-6 6" stroke="#fff" stroke-width="1.800"/></svg>
<div class="a" style="left:1424px;top:123px;width:224px;height:16px;background:linear-gradient(#546a72,#3a5058 45%,#2c424a);border-radius:6px 6px 0 0"></div>
<svg class="a" style="left:1428.5px;top:122px" width="16" height="16" viewBox="0 0 16 16"><rect x="0.500" y="0.500" width="14" height="14" fill="#ffffff" stroke="#2a6ce0"/><rect x="0.500" y="0.500" width="14" height="3" fill="#3a80e8"/><text x="7.500" y="13" font-family="Liberation Sans" font-weight="bold" font-size="10" text-anchor="middle" fill="#102060">A</text></svg>
<div class="a sim" style="left:1496px;top:126px;">Structures</div>
<svg class="a" style="left:1631px;top:125px" width="14" height="13" viewBox="0 0 14 13"><rect x=".5" y=".5" width="13" height="12" rx="2" fill="#b4b4b4" stroke="#f0f0f0" stroke-opacity=".5"/><path d="M4 3.500l6 6M10 3.500l-6 6" stroke="#fff" stroke-width="1.800"/></svg>
<div class="a" style="left:1651px;top:123px;width:224px;height:16px;background:linear-gradient(#546a72,#3a5058 45%,#2c424a);border-radius:6px 6px 0 0"></div>
<svg class="a" style="left:1655.5px;top:122px" width="16" height="16" viewBox="0 0 16 16"><rect x="0.500" y="0.500" width="14" height="14" fill="#ffffff" stroke="#2a6ce0"/><rect x="0.500" y="0.500" width="14" height="3" fill="#3a80e8"/><path d="M3 6h2M3 9h2M3 12h2" stroke="#102060" stroke-width="1.500"/><path d="M7 6h5M7 9h5M7 12h5" stroke="#305080"/></svg>
<div class="a sim" style="left:1744px;top:126px;">Enums</div>
<svg class="a" style="left:1858px;top:125px" width="14" height="13" viewBox="0 0 14 13"><rect x=".5" y=".5" width="13" height="12" rx="2" fill="#b4b4b4" stroke="#f0f0f0" stroke-opacity=".5"/><path d="M4 3.500l6 6M10 3.500l-6 6" stroke="#fff" stroke-width="1.800"/></svg>
<div class="a" style="left:1878px;top:123px;width:224px;height:16px;background:linear-gradient(#546a72,#3a5058 45%,#2c424a);border-radius:6px 6px 0 0"></div>
<svg class="a" style="left:1882.5px;top:122px" width="16" height="16" viewBox="0 0 16 16"><rect x="0.500" y="0.500" width="14" height="14" fill="#ffffff" stroke="#9cc0f0"/><rect x="0.500" y="0.500" width="14" height="3" fill="#3a80e8"/><path d="M7.500 8.500h5.500M7.500 10.500h5.500M7.500 12.500h5.500" stroke="#1c2c9c" stroke-width="1"/><path d="M1.500 5.500h3V4l3 3-3 3V8.500h-3z" fill="#20b020" stroke="#0a600a" stroke-width=".5"/></svg>
<div class="a sim" style="left:1962px;top:126px;">Imports</div>
<svg class="a" style="left:2085px;top:125px" width="14" height="13" viewBox="0 0 14 13"><rect x=".5" y=".5" width="13" height="12" rx="2" fill="#b4b4b4" stroke="#f0f0f0" stroke-opacity=".5"/><path d="M4 3.500l6 6M10 3.500l-6 6" stroke="#fff" stroke-width="1.800"/></svg>
<div class="a" style="left:2105px;top:123px;width:225px;height:16px;background:linear-gradient(#546a72,#3a5058 45%,#2c424a);border-radius:6px 6px 0 0"></div>
<svg class="a" style="left:2109.5px;top:122px" width="16" height="16" viewBox="0 0 16 16"><rect x="0.500" y="0.500" width="14" height="14" fill="#ffffff" stroke="#9cc0f0"/><rect x="0.500" y="0.500" width="14" height="3" fill="#3a80e8"/><path d="M2 8.500h5M2 10.500h5M2 12.500h5" stroke="#1c2c9c" stroke-width="1"/><path d="M7.500 6h3V4.500l3.500 3-3.500 3V9h-3z" fill="#20b020" stroke="#0a600a" stroke-width=".5"/></svg>
<div class="a sim" style="left:2190px;top:126px;">Exports</div>
<svg class="a" style="left:2313px;top:125px" width="14" height="13" viewBox="0 0 14 13"><rect x=".5" y=".5" width="13" height="12" rx="2" fill="#b4b4b4" stroke="#f0f0f0" stroke-opacity=".5"/><path d="M4 3.500l6 6M10 3.500l-6 6" stroke="#fff" stroke-width="1.800"/></svg>
<div class="a" style="left:2333px;top:139px;width:227px;height:1px;background:#a4b0b2;z-index:5"></div>
<div class="a" style="left:515px;top:139px;width:2045px;height:679px;background:#324b53;overflow:hidden">
<svg class="a" style="left:0;top:0" width="2045" height="679"><path d="M53 1 L53 294 L160 294 L160 312" stroke="#34c24c" stroke-width="1.8" fill="none" stroke-linejoin="round"/><path d="M155.5 302h9L160 312z" fill="#30f830"/><path d="M68 1 L68 298 L-1 298" stroke="#34c24c" stroke-width="1.8" fill="none" stroke-linejoin="round"/><path d="M702 1 L702 298 L180 298 L180 312" stroke="#34c24c" stroke-width="1.8" fill="none" stroke-linejoin="round"/><path d="M175.5 302h9L180 312z" fill="#30f830"/><path d="M391 1 L391 292 L393 295 L393 312" stroke="#34c24c" stroke-width="1.8" fill="none" stroke-linejoin="round"/><path d="M388.5 302h9L393 312z" fill="#30f830"/><path d="M603 1 L603 99 L605 102 L605 119" stroke="#d84c4c" stroke-width="1.8" fill="none" stroke-linejoin="round"/><path d="M600.5 109h9L605 119z" fill="#ff3838"/><path d="M605 219 L605 312" stroke="#4472c4" stroke-width="1.8" fill="none" stroke-linejoin="round"/><path d="M600.5 302h9L605 312z" fill="#3c7cff"/><path d="M806 1 L806 292 L808 295 L808 312" stroke="#d84c4c" stroke-width="1.8" fill="none" stroke-linejoin="round"/><path d="M803.5 302h9L808 312z" fill="#ff3838"/><path d="M993 86 L993 105 L1075 105 L1075 119" stroke="#d84c4c" stroke-width="1.8" fill="none" stroke-linejoin="round"/><path d="M1070.5 109h9L1075 119z" fill="#ff3838"/><path d="M1013 86 L1013 101 L1264 101 L1264 494.5 L952 494.5 L952 525" stroke="#34c24c" stroke-width="1.8" fill="none" stroke-linejoin="round"/><path d="M947.5 515h9L952 525z" fill="#30f830"/><path d="M1065 279 L1065 294 L983 294 L983 312" stroke="#d84c4c" stroke-width="1.8" fill="none" stroke-linejoin="round"/><path d="M978.5 302h9L983 312z" fill="#ff3838"/><path d="M1085 279 L1085 294 L1167 294 L1167 312" stroke="#34c24c" stroke-width="1.8" fill="none" stroke-linejoin="round"/><path d="M1162.5 302h9L1167 312z" fill="#30f830"/><path d="M1423 1 L1423 292 L1425 295 L1425 312" stroke="#34c24c" stroke-width="1.8" fill="none" stroke-linejoin="round"/><path d="M1420.5 302h9L1425 312z" fill="#30f830"/><path d="M1698 1 L1698 292 L1700 295 L1700 312" stroke="#34c24c" stroke-width="1.8" fill="none" stroke-linejoin="round"/><path d="M1695.5 302h9L1700 312z" fill="#30f830"/><path d="M1914 1 L1914 292 L1916 295 L1916 312" stroke="#34c24c" stroke-width="1.8" fill="none" stroke-linejoin="round"/><path d="M1911.5 302h9L1916 312z" fill="#30f830"/><path d="M808 352 L808 487 L922 487 L922 525" stroke="#4472c4" stroke-width="1.8" fill="none" stroke-linejoin="round"/><path d="M917.5 515h9L922 525z" fill="#3c7cff"/><path d="M983 370 L983 487 L932 487 L932 525" stroke="#4472c4" stroke-width="1.8" fill="none" stroke-linejoin="round"/><path d="M927.5 515h9L932 525z" fill="#3c7cff"/><path d="M605 457 L605 491 L912 491 L912 525" stroke="#4472c4" stroke-width="1.8" fill="none" stroke-linejoin="round"/><path d="M907.5 515h9L912 525z" fill="#3c7cff"/><path d="M393 382 L393 495 L902 495 L902 525" stroke="#4472c4" stroke-width="1.8" fill="none" stroke-linejoin="round"/><path d="M897.5 515h9L902 525z" fill="#3c7cff"/><path d="M170 427 L170 499 L892 499 L892 525" stroke="#4472c4" stroke-width="1.8" fill="none" stroke-linejoin="round"/><path d="M887.5 515h9L892 525z" fill="#3c7cff"/><path d="M-1 503 L882 503 L882 525" stroke="#4472c4" stroke-width="1.8" fill="none" stroke-linejoin="round"/><path d="M877.5 515h9L882 525z" fill="#3c7cff"/><path d="M-1 507 L872 507 L872 525" stroke="#4472c4" stroke-width="1.8" fill="none" stroke-linejoin="round"/><path d="M867.5 515h9L872 525z" fill="#3c7cff"/><path d="M1167 427 L1167 490.5 L942 490.5 L942 525" stroke="#4472c4" stroke-width="1.8" fill="none" stroke-linejoin="round"/><path d="M937.5 515h9L942 525z" fill="#3c7cff"/><path d="M1425 472 L1425 499 L962 499 L962 525" stroke="#4472c4" stroke-width="1.8" fill="none" stroke-linejoin="round"/><path d="M957.5 515h9L962 525z" fill="#3c7cff"/><path d="M1700 472 L1700 503 L972 503 L972 525" stroke="#4472c4" stroke-width="1.8" fill="none" stroke-linejoin="round"/><path d="M967.5 515h9L972 525z" fill="#3c7cff"/><path d="M1916 397 L1916 507 L982 507 L982 525" stroke="#4472c4" stroke-width="1.8" fill="none" stroke-linejoin="round"/><path d="M977.5 515h9L982 525z" fill="#3c7cff"/><path d="M2045 511 L992 511 L992 525" stroke="#4472c4" stroke-width="1.8" fill="none" stroke-linejoin="round"/><path d="M987.5 515h9L992 525z" fill="#3c7cff"/></svg>
<div class="node" style="left:860px;top:-19px;width:286px;height:106px;">
<div class="nb code" style="top:12px"><span class="m">push    </span><span class="w">[ebp+</span><span class="v">hWnd</span><span class="w">]      </span><span class="c">; hWndParent</span>
<span class="m">push    </span><span class="s">offset </span><span class="d">aDlgRegis</span><span class="w"> </span><span class="c">; </span><span class="g">"DLG_REGIS"</span>
<span class="m">push    </span><span class="w">ds:</span><span class="d">hInstance</span><span class="w">    </span><span class="c">; hInstance</span>
<span class="m">call    </span><span class="p">DialogBoxParamA</span>
<span class="m">cmp     </span><span class="w">eax, </span><span class="n">0</span>
<span class="m">jz      </span><span class="s">short </span><span class="h">loc_4011E6</span></div></div>
<div class="node" style="left:518px;top:119px;width:174px;height:100px;">
<div class="nh" style=""><svg class="a" style="left:2px;top:2px" width="56" height="16" viewBox="0 0 56 16"><defs><linearGradient id="rb" x1="0" x2="1" y1="0" y2="0"><stop offset="0" stop-color="#ff2020"/><stop offset=".2" stop-color="#fff020"/><stop offset=".4" stop-color="#20f020"/><stop offset=".6" stop-color="#20e8e8"/><stop offset=".8" stop-color="#2828ff"/><stop offset="1" stop-color="#f020f0"/></linearGradient><linearGradient id="wb" x1="0" x2="0" y1="0" y2="1"><stop offset="0" stop-color="#fff" stop-opacity=".95"/><stop offset=".3" stop-color="#fff" stop-opacity="0"/><stop offset=".45" stop-color="#000" stop-opacity="0"/><stop offset="1" stop-color="#000" stop-opacity=".95"/></linearGradient><linearGradient id="pb" x1="0" x2="1" y1="0" y2="1"><stop offset="0" stop-color="#3048d8"/><stop offset="1" stop-color="#101890"/></linearGradient></defs><rect x="0" y="0" width="15" height="15" fill="#000048"/><rect x="0" y="0" width="14" height="14" fill="url(#rb)"/><rect x="0" y="0" width="14" height="14" fill="url(#wb)"/><rect x="19" y="6.500" width="14.500" height="8.500" fill="#101870"/><rect x="20" y="7.500" width="12.500" height="6.500" fill="url(#pb)" stroke="#f4f4ff" stroke-width="1"/><path d="M22.500 12.500l9-10.500 2 1.700-9 10.500z" fill="#f0a020" stroke="#a05808" stroke-width=".4"/><path d="M23.500 12.800l8.500-10" stroke="#fff0c0" stroke-width=".7"/><path d="M31.500 2l1-1.200 2 1.700-1 1.200z" fill="#d8e8f8"/><rect x="39.500" y=".5" width="14" height="13" fill="#ffffff" stroke="#c8d8f0" stroke-width=".8"/><rect x="39.500" y=".5" width="14" height="2" fill="#6a9ce8"/><path d="M41.500 4v6h3M42.500 8.500l2 1.500-2 1.500M44 4.500l1.500 1.500 1.500-1.500M48 4.500l1.500 1.500 1.500-1.500" stroke="#1c2c9c" fill="none" stroke-width="1"/><rect x="45.500" y="8.500" width="6.500" height="2.500" fill="#e02020" stroke="#902020" stroke-width=".4"/></svg></div>
<div class="nb code"><span class="m">nop</span>
<span class="m">nop</span>
<span class="m">nop</span>
<span class="m">nop</span>
<span class="m">jmp     </span><span class="s">short </span><span class="l">loc_401180</span></div></div>
<div class="node" style="left:981px;top:119px;width:188px;height:160px;">
<div class="nh" style=""><svg class="a" style="left:2px;top:2px" width="56" height="16" viewBox="0 0 56 16"><defs><linearGradient id="rb" x1="0" x2="1" y1="0" y2="0"><stop offset="0" stop-color="#ff2020"/><stop offset=".2" stop-color="#fff020"/><stop offset=".4" stop-color="#20f020"/><stop offset=".6" stop-color="#20e8e8"/><stop offset=".8" stop-color="#2828ff"/><stop offset="1" stop-color="#f020f0"/></linearGradient><linearGradient id="wb" x1="0" x2="0" y1="0" y2="1"><stop offset="0" stop-color="#fff" stop-opacity=".95"/><stop offset=".3" stop-color="#fff" stop-opacity="0"/><stop offset=".45" stop-color="#000" stop-opacity="0"/><stop offset="1" stop-color="#000" stop-opacity=".95"/></linearGradient><linearGradient id="pb" x1="0" x2="1" y1="0" y2="1"><stop offset="0" stop-color="#3048d8"/><stop offset="1" stop-color="#101890"/></linearGradient></defs><rect x="0" y="0" width="15" height="15" fill="#000048"/><rect x="0" y="0" width="14" height="14" fill="url(#rb)"/><rect x="0" y="0" width="14" height="14" fill="url(#wb)"/><rect x="19" y="6.500" width="14.500" height="8.500" fill="#101870"/><rect x="20" y="7.500" width="12.500" height="6.500" fill="url(#pb)" stroke="#f4f4ff" stroke-width="1"/><path d="M22.500 12.500l9-10.500 2 1.700-9 10.500z" fill="#f0a020" stroke="#a05808" stroke-width=".4"/><path d="M23.500 12.800l8.500-10" stroke="#fff0c0" stroke-width=".7"/><path d="M31.500 2l1-1.200 2 1.700-1 1.200z" fill="#d8e8f8"/><rect x="39.500" y=".5" width="14" height="13" fill="#ffffff" stroke="#c8d8f0" stroke-width=".8"/><rect x="39.500" y=".5" width="14" height="2" fill="#6a9ce8"/><path d="M41.500 4v6h3M42.500 8.500l2 1.500-2 1.500M44 4.500l1.500 1.500 1.500-1.500M48 4.500l1.500 1.500 1.500-1.500" stroke="#1c2c9c" fill="none" stroke-width="1"/><rect x="45.500" y="8.500" width="6.500" height="2.500" fill="#e02020" stroke="#902020" stroke-width=".4"/></svg></div>
<div class="nb code"><span class="m">push    </span><span class="s">offset </span><span class="d">String</span>
<span class="m">call    </span><span class="f">sub_40137E</span>
<span class="m">push    </span><span class="w">eax</span>
<span class="m">push    </span><span class="s">offset </span><span class="d">byte_40217E</span>
<span class="m">call    </span><span class="f">sub_4013D8</span>
<span class="m">add     </span><span class="w">esp, </span><span class="n">4</span>
<span class="m">pop     </span><span class="w">eax</span>
<span class="m">cmp     </span><span class="w">eax, ebx</span>
<span class="m">jz      </span><span class="s">short </span><span class="l">loc_40124C</span></div></div>
<div class="node" style="left:-139px;top:312px;width:174px;height:85px;">
<div class="nh" style=""><svg class="a" style="left:2px;top:2px" width="56" height="16" viewBox="0 0 56 16"><defs><linearGradient id="rb" x1="0" x2="1" y1="0" y2="0"><stop offset="0" stop-color="#ff2020"/><stop offset=".2" stop-color="#fff020"/><stop offset=".4" stop-color="#20f020"/><stop offset=".6" stop-color="#20e8e8"/><stop offset=".8" stop-color="#2828ff"/><stop offset="1" stop-color="#f020f0"/></linearGradient><linearGradient id="wb" x1="0" x2="0" y1="0" y2="1"><stop offset="0" stop-color="#fff" stop-opacity=".95"/><stop offset=".3" stop-color="#fff" stop-opacity="0"/><stop offset=".45" stop-color="#000" stop-opacity="0"/><stop offset="1" stop-color="#000" stop-opacity=".95"/></linearGradient><linearGradient id="pb" x1="0" x2="1" y1="0" y2="1"><stop offset="0" stop-color="#3048d8"/><stop offset="1" stop-color="#101890"/></linearGradient></defs><rect x="0" y="0" width="15" height="15" fill="#000048"/><rect x="0" y="0" width="14" height="14" fill="url(#rb)"/><rect x="0" y="0" width="14" height="14" fill="url(#wb)"/><rect x="19" y="6.500" width="14.500" height="8.500" fill="#101870"/><rect x="20" y="7.500" width="12.500" height="6.500" fill="url(#pb)" stroke="#f4f4ff" stroke-width="1"/><path d="M22.500 12.500l9-10.500 2 1.700-9 10.500z" fill="#f0a020" stroke="#a05808" stroke-width=".4"/><path d="M23.500 12.800l8.500-10" stroke="#fff0c0" stroke-width=".7"/><path d="M31.500 2l1-1.200 2 1.700-1 1.200z" fill="#d8e8f8"/><rect x="39.500" y=".5" width="14" height="13" fill="#ffffff" stroke="#c8d8f0" stroke-width=".8"/><rect x="39.500" y=".5" width="14" height="2" fill="#6a9ce8"/><path d="M41.500 4v6h3M42.500 8.500l2 1.500-2 1.500M44 4.500l1.500 1.500 1.500-1.500M48 4.500l1.500 1.500 1.500-1.500" stroke="#1c2c9c" fill="none" stroke-width="1"/><rect x="45.500" y="8.500" width="6.500" height="2.500" fill="#e02020" stroke="#902020" stroke-width=".4"/></svg></div>
<div class="nb code">
<span class="l">loc_40119A:</span>
<span class="m">mov     </span><span class="w">eax, </span><span class="n">0</span>
<span class="m">jmp     </span><span class="s">short </span><span class="h">loc_4011E6</span></div></div>
<div class="node" style="left:45px;top:312px;width:251px;height:115px;">
<div class="nh" style=""><svg class="a" style="left:2px;top:2px" width="56" height="16" viewBox="0 0 56 16"><defs><linearGradient id="rb" x1="0" x2="1" y1="0" y2="0"><stop offset="0" stop-color="#ff2020"/><stop offset=".2" stop-color="#fff020"/><stop offset=".4" stop-color="#20f020"/><stop offset=".6" stop-color="#20e8e8"/><stop offset=".8" stop-color="#2828ff"/><stop offset="1" stop-color="#f020f0"/></linearGradient><linearGradient id="wb" x1="0" x2="0" y1="0" y2="1"><stop offset="0" stop-color="#fff" stop-opacity=".95"/><stop offset=".3" stop-color="#fff" stop-opacity="0"/><stop offset=".45" stop-color="#000" stop-opacity="0"/><stop offset="1" stop-color="#000" stop-opacity=".95"/></linearGradient><linearGradient id="pb" x1="0" x2="1" y1="0" y2="1"><stop offset="0" stop-color="#3048d8"/><stop offset="1" stop-color="#101890"/></linearGradient></defs><rect x="0" y="0" width="15" height="15" fill="#000048"/><rect x="0" y="0" width="14" height="14" fill="url(#rb)"/><rect x="0" y="0" width="14" height="14" fill="url(#wb)"/><rect x="19" y="6.500" width="14.500" height="8.500" fill="#101870"/><rect x="20" y="7.500" width="12.500" height="6.500" fill="url(#pb)" stroke="#f4f4ff" stroke-width="1"/><path d="M22.500 12.500l9-10.500 2 1.700-9 10.500z" fill="#f0a020" stroke="#a05808" stroke-width=".4"/><path d="M23.500 12.800l8.500-10" stroke="#fff0c0" stroke-width=".7"/><path d="M31.500 2l1-1.200 2 1.700-1 1.200z" fill="#d8e8f8"/><rect x="39.500" y=".5" width="14" height="13" fill="#ffffff" stroke="#c8d8f0" stroke-width=".8"/><rect x="39.500" y=".5" width="14" height="2" fill="#6a9ce8"/><path d="M41.500 4v6h3M42.500 8.500l2 1.500-2 1.500M44 4.500l1.500 1.500 1.500-1.500M48 4.500l1.500 1.500 1.500-1.500" stroke="#1c2c9c" fill="none" stroke-width="1"/><rect x="45.500" y="8.500" width="6.500" height="2.500" fill="#e02020" stroke="#902020" stroke-width=".4"/></svg></div>
<div class="nb code">
<span class="l">loc_401193:</span><span class="w">             </span><span class="c">; nExitCode</span>
<span class="m">push    </span><span class="n">0</span>
<span class="m">call    </span><span class="p">PostQuitMessage</span>
<span class="m">mov     </span><span class="w">eax, </span><span class="n">0</span>
<span class="m">jmp     </span><span class="s">short </span><span class="h">loc_4011E6</span></div></div>
<div class="node" style="left:306px;top:312px;width:174px;height:70px;">
<div class="nh" style=""><svg class="a" style="left:2px;top:2px" width="56" height="16" viewBox="0 0 56 16"><defs><linearGradient id="rb" x1="0" x2="1" y1="0" y2="0"><stop offset="0" stop-color="#ff2020"/><stop offset=".2" stop-color="#fff020"/><stop offset=".4" stop-color="#20f020"/><stop offset=".6" stop-color="#20e8e8"/><stop offset=".8" stop-color="#2828ff"/><stop offset="1" stop-color="#f020f0"/></linearGradient><linearGradient id="wb" x1="0" x2="0" y1="0" y2="1"><stop offset="0" stop-color="#fff" stop-opacity=".95"/><stop offset=".3" stop-color="#fff" stop-opacity="0"/><stop offset=".45" stop-color="#000" stop-opacity="0"/><stop offset="1" stop-color="#000" stop-opacity=".95"/></linearGradient><linearGradient id="pb" x1="0" x2="1" y1="0" y2="1"><stop offset="0" stop-color="#3048d8"/><stop offset="1" stop-color="#101890"/></linearGradient></defs><rect x="0" y="0" width="15" height="15" fill="#000048"/><rect x="0" y="0" width="14" height="14" fill="url(#rb)"/><rect x="0" y="0" width="14" height="14" fill="url(#wb)"/><rect x="19" y="6.500" width="14.500" height="8.500" fill="#101870"/><rect x="20" y="7.500" width="12.500" height="6.500" fill="url(#pb)" stroke="#f4f4ff" stroke-width="1"/><path d="M22.500 12.500l9-10.500 2 1.700-9 10.500z" fill="#f0a020" stroke="#a05808" stroke-width=".4"/><path d="M23.500 12.800l8.500-10" stroke="#fff0c0" stroke-width=".7"/><path d="M31.500 2l1-1.200 2 1.700-1 1.200z" fill="#d8e8f8"/><rect x="39.500" y=".5" width="14" height="13" fill="#ffffff" stroke="#c8d8f0" stroke-width=".8"/><rect x="39.500" y=".5" width="14" height="2" fill="#6a9ce8"/><path d="M41.500 4v6h3M42.500 8.500l2 1.500-2 1.500M44 4.500l1.500 1.500 1.500-1.500M48 4.500l1.500 1.500 1.500-1.500" stroke="#1c2c9c" fill="none" stroke-width="1"/><rect x="45.500" y="8.500" width="6.500" height="2.500" fill="#e02020" stroke="#902020" stroke-width=".4"/></svg></div>
<div class="nb code">
<span class="l">loc_4011A1:</span>
<span class="m">jmp     </span><span class="s">short </span><span class="h">loc_4011E6</span></div></div>
<div class="node" style="left:490px;top:312px;width:230px;height:145px;">
<div class="nh" style=""><svg class="a" style="left:2px;top:2px" width="56" height="16" viewBox="0 0 56 16"><defs><linearGradient id="rb" x1="0" x2="1" y1="0" y2="0"><stop offset="0" stop-color="#ff2020"/><stop offset=".2" stop-color="#fff020"/><stop offset=".4" stop-color="#20f020"/><stop offset=".6" stop-color="#20e8e8"/><stop offset=".8" stop-color="#2828ff"/><stop offset="1" stop-color="#f020f0"/></linearGradient><linearGradient id="wb" x1="0" x2="0" y1="0" y2="1"><stop offset="0" stop-color="#fff" stop-opacity=".95"/><stop offset=".3" stop-color="#fff" stop-opacity="0"/><stop offset=".45" stop-color="#000" stop-opacity="0"/><stop offset="1" stop-color="#000" stop-opacity=".95"/></linearGradient><linearGradient id="pb" x1="0" x2="1" y1="0" y2="1"><stop offset="0" stop-color="#3048d8"/><stop offset="1" stop-color="#101890"/></linearGradient></defs><rect x="0" y="0" width="15" height="15" fill="#000048"/><rect x="0" y="0" width="14" height="14" fill="url(#rb)"/><rect x="0" y="0" width="14" height="14" fill="url(#wb)"/><rect x="19" y="6.500" width="14.500" height="8.500" fill="#101870"/><rect x="20" y="7.500" width="12.500" height="6.500" fill="url(#pb)" stroke="#f4f4ff" stroke-width="1"/><path d="M22.500 12.500l9-10.500 2 1.700-9 10.500z" fill="#f0a020" stroke="#a05808" stroke-width=".4"/><path d="M23.500 12.800l8.500-10" stroke="#fff0c0" stroke-width=".7"/><path d="M31.500 2l1-1.200 2 1.700-1 1.200z" fill="#d8e8f8"/><rect x="39.500" y=".5" width="14" height="13" fill="#ffffff" stroke="#c8d8f0" stroke-width=".8"/><rect x="39.500" y=".5" width="14" height="2" fill="#6a9ce8"/><path d="M41.500 4v6h3M42.500 8.500l2 1.500-2 1.500M44 4.500l1.500 1.500 1.500-1.500M48 4.500l1.500 1.500 1.500-1.500" stroke="#1c2c9c" fill="none" stroke-width="1"/><rect x="45.500" y="8.500" width="6.500" height="2.500" fill="#e02020" stroke="#902020" stroke-width=".4"/></svg></div>
<div class="nb code">
<span class="l">loc_401180:</span><span class="w">             </span><span class="c">; lParam</span>
<span class="m">push    </span><span class="w">[ebp+</span><span class="v">lParam</span><span class="w">]</span>
<span class="m">push    </span><span class="w">[ebp+</span><span class="v">wParam</span><span class="w">]    </span><span class="c">; wParam</span>
<span class="m">push    </span><span class="w">[ebp+</span><span class="v">Msg</span><span class="w">]       </span><span class="c">; Msg</span>
<span class="m">push    </span><span class="w">[ebp+</span><span class="v">hWnd</span><span class="w">]      </span><span class="c">; hWnd</span>
<span class="m">call    </span><span class="p">DefWindowProcA</span>
<span class="m">jmp     </span><span class="s">short </span><span class="h">loc_4011E6</span></div></div>
<div class="node" style="left:730px;top:312px;width:156px;height:40px;">
<div class="nh" style=""><svg class="a" style="left:2px;top:2px" width="56" height="16" viewBox="0 0 56 16"><defs><linearGradient id="rb" x1="0" x2="1" y1="0" y2="0"><stop offset="0" stop-color="#ff2020"/><stop offset=".2" stop-color="#fff020"/><stop offset=".4" stop-color="#20f020"/><stop offset=".6" stop-color="#20e8e8"/><stop offset=".8" stop-color="#2828ff"/><stop offset="1" stop-color="#f020f0"/></linearGradient><linearGradient id="wb" x1="0" x2="0" y1="0" y2="1"><stop offset="0" stop-color="#fff" stop-opacity=".95"/><stop offset=".3" stop-color="#fff" stop-opacity="0"/><stop offset=".45" stop-color="#000" stop-opacity="0"/><stop offset="1" stop-color="#000" stop-opacity=".95"/></linearGradient><linearGradient id="pb" x1="0" x2="1" y1="0" y2="1"><stop offset="0" stop-color="#3048d8"/><stop offset="1" stop-color="#101890"/></linearGradient></defs><rect x="0" y="0" width="15" height="15" fill="#000048"/><rect x="0" y="0" width="14" height="14" fill="url(#rb)"/><rect x="0" y="0" width="14" height="14" fill="url(#wb)"/><rect x="19" y="6.500" width="14.500" height="8.500" fill="#101870"/><rect x="20" y="7.500" width="12.500" height="6.500" fill="url(#pb)" stroke="#f4f4ff" stroke-width="1"/><path d="M22.500 12.500l9-10.500 2 1.700-9 10.500z" fill="#f0a020" stroke="#a05808" stroke-width=".4"/><path d="M23.500 12.800l8.500-10" stroke="#fff0c0" stroke-width=".7"/><path d="M31.500 2l1-1.200 2 1.700-1 1.200z" fill="#d8e8f8"/><rect x="39.500" y=".5" width="14" height="13" fill="#ffffff" stroke="#c8d8f0" stroke-width=".8"/><rect x="39.500" y=".5" width="14" height="2" fill="#6a9ce8"/><path d="M41.500 4v6h3M42.500 8.500l2 1.500-2 1.500M44 4.500l1.500 1.500 1.500-1.500M48 4.500l1.500 1.500 1.500-1.500" stroke="#1c2c9c" fill="none" stroke-width="1"/><rect x="45.500" y="8.500" width="6.500" height="2.500" fill="#e02020" stroke="#902020" stroke-width=".4"/></svg></div>
<div class="nb code"><span class="w">  </span><span class="m">jmp     </span><span class="s">short </span><span class="w">$+</span><span class="n">2</span></div></div>
<div class="a" style="left:897px;top:312px;width:174px;height:59px;background:#00f400;border:3px solid #e82c2c"><div class="a" style="left:0;top:0;width:168px;height:16px;background:#089eb8"><svg class="a" style="left:0px;top:0px" width="56" height="16" viewBox="0 0 56 16"><defs><linearGradient id="rb" x1="0" x2="1" y1="0" y2="0"><stop offset="0" stop-color="#ff2020"/><stop offset=".2" stop-color="#fff020"/><stop offset=".4" stop-color="#20f020"/><stop offset=".6" stop-color="#20e8e8"/><stop offset=".8" stop-color="#2828ff"/><stop offset="1" stop-color="#f020f0"/></linearGradient><linearGradient id="wb" x1="0" x2="0" y1="0" y2="1"><stop offset="0" stop-color="#fff" stop-opacity=".95"/><stop offset=".3" stop-color="#fff" stop-opacity="0"/><stop offset=".45" stop-color="#000" stop-opacity="0"/><stop offset="1" stop-color="#000" stop-opacity=".95"/></linearGradient><linearGradient id="pb" x1="0" x2="1" y1="0" y2="1"><stop offset="0" stop-color="#3048d8"/><stop offset="1" stop-color="#101890"/></linearGradient></defs><rect x="0" y="0" width="15" height="15" fill="#000048"/><rect x="0" y="0" width="14" height="14" fill="url(#rb)"/><rect x="0" y="0" width="14" height="14" fill="url(#wb)"/><rect x="19" y="6.500" width="14.500" height="8.500" fill="#101870"/><rect x="20" y="7.500" width="12.500" height="6.500" fill="url(#pb)" stroke="#f4f4ff" stroke-width="1"/><path d="M22.500 12.500l9-10.500 2 1.700-9 10.500z" fill="#f0a020" stroke="#a05808" stroke-width=".4"/><path d="M23.500 12.800l8.500-10" stroke="#fff0c0" stroke-width=".7"/><path d="M31.500 2l1-1.200 2 1.700-1 1.200z" fill="#d8e8f8"/><rect x="39.500" y=".5" width="14" height="13" fill="#ffffff" stroke="#c8d8f0" stroke-width=".8"/><rect x="39.500" y=".5" width="14" height="2" fill="#6a9ce8"/><path d="M41.500 4v6h3M42.500 8.500l2 1.500-2 1.500M44 4.500l1.500 1.500 1.500-1.500M48 4.500l1.500 1.500 1.500-1.500" stroke="#1c2c9c" fill="none" stroke-width="1"/><rect x="45.500" y="8.500" width="6.500" height="2.500" fill="#e02020" stroke="#902020" stroke-width=".4"/></svg></div><div class="a" style="left:0;top:16px;width:168px;height:1px;background:#06140a"></div><div class="a" style="left:0;top:34px;width:168px;height:15px;background:#22cc22"></div><div class="a code" style="left:0px;top:20px"><span style="color:#10b890">call    </span><span style="color:#18a8a0">CALL_ERROR</span>
<span style="color:#28b0e0">jmp     </span><span style="color:#b0ffd0">short </span><span class="h" style="background:#6a1c6e;color:#f0a0e8">loc_4011E6</span></div></div>
<div class="node" style="left:1080px;top:312px;width:174px;height:115px;">
<div class="nh" style=""><svg class="a" style="left:2px;top:2px" width="56" height="16" viewBox="0 0 56 16"><defs><linearGradient id="rb" x1="0" x2="1" y1="0" y2="0"><stop offset="0" stop-color="#ff2020"/><stop offset=".2" stop-color="#fff020"/><stop offset=".4" stop-color="#20f020"/><stop offset=".6" stop-color="#20e8e8"/><stop offset=".8" stop-color="#2828ff"/><stop offset="1" stop-color="#f020f0"/></linearGradient><linearGradient id="wb" x1="0" x2="0" y1="0" y2="1"><stop offset="0" stop-color="#fff" stop-opacity=".95"/><stop offset=".3" stop-color="#fff" stop-opacity="0"/><stop offset=".45" stop-color="#000" stop-opacity="0"/><stop offset="1" stop-color="#000" stop-opacity=".95"/></linearGradient><linearGradient id="pb" x1="0" x2="1" y1="0" y2="1"><stop offset="0" stop-color="#3048d8"/><stop offset="1" stop-color="#101890"/></linearGradient></defs><rect x="0" y="0" width="15" height="15" fill="#000048"/><rect x="0" y="0" width="14" height="14" fill="url(#rb)"/><rect x="0" y="0" width="14" height="14" fill="url(#wb)"/><rect x="19" y="6.500" width="14.500" height="8.500" fill="#101870"/><rect x="20" y="7.500" width="12.500" height="6.500" fill="url(#pb)" stroke="#f4f4ff" stroke-width="1"/><path d="M22.500 12.500l9-10.500 2 1.700-9 10.500z" fill="#f0a020" stroke="#a05808" stroke-width=".4"/><path d="M23.500 12.800l8.500-10" stroke="#fff0c0" stroke-width=".7"/><path d="M31.500 2l1-1.200 2 1.700-1 1.200z" fill="#d8e8f8"/><rect x="39.500" y=".5" width="14" height="13" fill="#ffffff" stroke="#c8d8f0" stroke-width=".8"/><rect x="39.500" y=".5" width="14" height="2" fill="#6a9ce8"/><path d="M41.500 4v6h3M42.500 8.500l2 1.500-2 1.500M44 4.500l1.500 1.500 1.500-1.500M48 4.500l1.500 1.500 1.500-1.500" stroke="#1c2c9c" fill="none" stroke-width="1"/><rect x="45.500" y="8.500" width="6.500" height="2.500" fill="#e02020" stroke="#902020" stroke-width=".4"/></svg></div>
<div class="nb code">
<span class="l">loc_40124C:</span>
<span class="m">call    </span><span class="f">sub_40134D</span>
<span class="m">jmp     </span><span class="s">short </span><span class="h">loc_4011E6</span>
<span class="m">WndProc endp</span>
</div></div>
<div class="node" style="left:1279px;top:312px;width:293px;height:160px;">
<div class="nh" style=""><svg class="a" style="left:2px;top:2px" width="56" height="16" viewBox="0 0 56 16"><defs><linearGradient id="rb" x1="0" x2="1" y1="0" y2="0"><stop offset="0" stop-color="#ff2020"/><stop offset=".2" stop-color="#fff020"/><stop offset=".4" stop-color="#20f020"/><stop offset=".6" stop-color="#20e8e8"/><stop offset=".8" stop-color="#2828ff"/><stop offset="1" stop-color="#f020f0"/></linearGradient><linearGradient id="wb" x1="0" x2="0" y1="0" y2="1"><stop offset="0" stop-color="#fff" stop-opacity=".95"/><stop offset=".3" stop-color="#fff" stop-opacity="0"/><stop offset=".45" stop-color="#000" stop-opacity="0"/><stop offset="1" stop-color="#000" stop-opacity=".95"/></linearGradient><linearGradient id="pb" x1="0" x2="1" y1="0" y2="1"><stop offset="0" stop-color="#3048d8"/><stop offset="1" stop-color="#101890"/></linearGradient></defs><rect x="0" y="0" width="15" height="15" fill="#000048"/><rect x="0" y="0" width="14" height="14" fill="url(#rb)"/><rect x="0" y="0" width="14" height="14" fill="url(#wb)"/><rect x="19" y="6.500" width="14.500" height="8.500" fill="#101870"/><rect x="20" y="7.500" width="12.500" height="6.500" fill="url(#pb)" stroke="#f4f4ff" stroke-width="1"/><path d="M22.500 12.500l9-10.500 2 1.700-9 10.500z" fill="#f0a020" stroke="#a05808" stroke-width=".4"/><path d="M23.500 12.800l8.500-10" stroke="#fff0c0" stroke-width=".7"/><path d="M31.500 2l1-1.200 2 1.700-1 1.200z" fill="#d8e8f8"/><rect x="39.500" y=".5" width="14" height="13" fill="#ffffff" stroke="#c8d8f0" stroke-width=".8"/><rect x="39.500" y=".5" width="14" height="2" fill="#6a9ce8"/><path d="M41.500 4v6h3M42.500 8.500l2 1.500-2 1.500M44 4.500l1.500 1.500 1.500-1.500M48 4.500l1.500 1.500 1.500-1.500" stroke="#1c2c9c" fill="none" stroke-width="1"/><rect x="45.500" y="8.500" width="6.500" height="2.500" fill="#e02020" stroke="#902020" stroke-width=".4"/></svg></div>
<div class="nb code">
<span class="l">loc_4011ED:</span><span class="w">             </span><span class="c">; dwInitParam</span>
<span class="m">push    </span><span class="n">0</span>
<span class="m">push    </span><span class="s">offset </span><span class="f">DialogFunc</span><span class="w"> </span><span class="c">; lpDialogFunc</span>
<span class="m">push    </span><span class="w">[ebp+</span><span class="v">hWnd</span><span class="w">]      </span><span class="c">; hWndParent</span>
<span class="m">push    </span><span class="s">offset </span><span class="d">TemplateName</span><span class="w"> </span><span class="c">; </span><span class="g">"DLG_ABOUT"</span>
<span class="m">push    </span><span class="w">ds:</span><span class="d">hInstance</span><span class="w">    </span><span class="c">; hInstance</span>
<span class="m">call    </span><span class="p">DialogBoxParamA</span>
<span class="m">jmp     </span><span class="s">short </span><span class="h">loc_4011E6</span></div></div>
<div class="node" style="left:1582px;top:312px;width:237px;height:160px;">
<div class="nh" style=""><svg class="a" style="left:2px;top:2px" width="56" height="16" viewBox="0 0 56 16"><defs><linearGradient id="rb" x1="0" x2="1" y1="0" y2="0"><stop offset="0" stop-color="#ff2020"/><stop offset=".2" stop-color="#fff020"/><stop offset=".4" stop-color="#20f020"/><stop offset=".6" stop-color="#20e8e8"/><stop offset=".8" stop-color="#2828ff"/><stop offset="1" stop-color="#f020f0"/></linearGradient><linearGradient id="wb" x1="0" x2="0" y1="0" y2="1"><stop offset="0" stop-color="#fff" stop-opacity=".95"/><stop offset=".3" stop-color="#fff" stop-opacity="0"/><stop offset=".45" stop-color="#000" stop-opacity="0"/><stop offset="1" stop-color="#000" stop-opacity=".95"/></linearGradient><linearGradient id="pb" x1="0" x2="1" y1="0" y2="1"><stop offset="0" stop-color="#3048d8"/><stop offset="1" stop-color="#101890"/></linearGradient></defs><rect x="0" y="0" width="15" height="15" fill="#000048"/><rect x="0" y="0" width="14" height="14" fill="url(#rb)"/><rect x="0" y="0" width="14" height="14" fill="url(#wb)"/><rect x="19" y="6.500" width="14.500" height="8.500" fill="#101870"/><rect x="20" y="7.500" width="12.500" height="6.500" fill="url(#pb)" stroke="#f4f4ff" stroke-width="1"/><path d="M22.500 12.500l9-10.500 2 1.700-9 10.500z" fill="#f0a020" stroke="#a05808" stroke-width=".4"/><path d="M23.500 12.800l8.500-10" stroke="#fff0c0" stroke-width=".7"/><path d="M31.500 2l1-1.200 2 1.700-1 1.200z" fill="#d8e8f8"/><rect x="39.500" y=".5" width="14" height="13" fill="#ffffff" stroke="#c8d8f0" stroke-width=".8"/><rect x="39.500" y=".5" width="14" height="2" fill="#6a9ce8"/><path d="M41.500 4v6h3M42.500 8.500l2 1.500-2 1.500M44 4.500l1.500 1.500 1.500-1.500M48 4.500l1.500 1.500 1.500-1.500" stroke="#1c2c9c" fill="none" stroke-width="1"/><rect x="45.500" y="8.500" width="6.500" height="2.500" fill="#e02020" stroke="#902020" stroke-width=".4"/></svg></div>
<div class="nb code">
<span class="l">loc_4011AC:</span>
<span class="m">mov     </span><span class="w">ebx, [ebp+</span><span class="v">lParam</span><span class="w">]</span>
<span class="m">mov     </span><span class="s">dword ptr </span><span class="w">[ebx+</span><span class="n">18h</span><span class="w">], </span><span class="n">118h</span>
<span class="m">mov     </span><span class="s">dword ptr </span><span class="w">[ebx+</span><span class="n">1Ch</span><span class="w">], </span><span class="n">0A0h</span>
<span class="m">mov     </span><span class="s">dword ptr </span><span class="w">[ebx+</span><span class="n">20h</span><span class="w">], </span><span class="n">118h</span>
<span class="m">mov     </span><span class="s">dword ptr </span><span class="w">[ebx+</span><span class="n">24h</span><span class="w">], </span><span class="n">0A0h</span>
<span class="m">mov     </span><span class="w">eax, </span><span class="n">0</span>
<span class="m">jmp     </span><span class="s">short </span><span class="h">loc_4011E6</span></div></div>
<div class="node" style="left:1829px;top:312px;width:174px;height:85px;">
<div class="nh" style=""><svg class="a" style="left:2px;top:2px" width="56" height="16" viewBox="0 0 56 16"><defs><linearGradient id="rb" x1="0" x2="1" y1="0" y2="0"><stop offset="0" stop-color="#ff2020"/><stop offset=".2" stop-color="#fff020"/><stop offset=".4" stop-color="#20f020"/><stop offset=".6" stop-color="#20e8e8"/><stop offset=".8" stop-color="#2828ff"/><stop offset="1" stop-color="#f020f0"/></linearGradient><linearGradient id="wb" x1="0" x2="0" y1="0" y2="1"><stop offset="0" stop-color="#fff" stop-opacity=".95"/><stop offset=".3" stop-color="#fff" stop-opacity="0"/><stop offset=".45" stop-color="#000" stop-opacity="0"/><stop offset="1" stop-color="#000" stop-opacity=".95"/></linearGradient><linearGradient id="pb" x1="0" x2="1" y1="0" y2="1"><stop offset="0" stop-color="#3048d8"/><stop offset="1" stop-color="#101890"/></linearGradient></defs><rect x="0" y="0" width="15" height="15" fill="#000048"/><rect x="0" y="0" width="14" height="14" fill="url(#rb)"/><rect x="0" y="0" width="14" height="14" fill="url(#wb)"/><rect x="19" y="6.500" width="14.500" height="8.500" fill="#101870"/><rect x="20" y="7.500" width="12.500" height="6.500" fill="url(#pb)" stroke="#f4f4ff" stroke-width="1"/><path d="M22.500 12.500l9-10.500 2 1.700-9 10.500z" fill="#f0a020" stroke="#a05808" stroke-width=".4"/><path d="M23.500 12.800l8.500-10" stroke="#fff0c0" stroke-width=".7"/><path d="M31.500 2l1-1.200 2 1.700-1 1.200z" fill="#d8e8f8"/><rect x="39.500" y=".5" width="14" height="13" fill="#ffffff" stroke="#c8d8f0" stroke-width=".8"/><rect x="39.500" y=".5" width="14" height="2" fill="#6a9ce8"/><path d="M41.500 4v6h3M42.500 8.500l2 1.500-2 1.500M44 4.500l1.500 1.500 1.500-1.500M48 4.500l1.500 1.500 1.500-1.500" stroke="#1c2c9c" fill="none" stroke-width="1"/><rect x="45.500" y="8.500" width="6.500" height="2.500" fill="#e02020" stroke="#902020" stroke-width=".4"/></svg></div>
<div class="nb code">
<span class="l">loc_4011A5:</span>
<span class="m">mov     </span><span class="w">eax, </span><span class="n">0</span>
<span class="m">jmp     </span><span class="s">short </span><span class="h">loc_4011E6</span></div></div>
<div class="node" style="left:2013px;top:312px;width:174px;height:70px;">
<div class="nh" style=""><svg class="a" style="left:2px;top:2px" width="56" height="16" viewBox="0 0 56 16"><defs><linearGradient id="rb" x1="0" x2="1" y1="0" y2="0"><stop offset="0" stop-color="#ff2020"/><stop offset=".2" stop-color="#fff020"/><stop offset=".4" stop-color="#20f020"/><stop offset=".6" stop-color="#20e8e8"/><stop offset=".8" stop-color="#2828ff"/><stop offset="1" stop-color="#f020f0"/></linearGradient><linearGradient id="wb" x1="0" x2="0" y1="0" y2="1"><stop offset="0" stop-color="#fff" stop-opacity=".95"/><stop offset=".3" stop-color="#fff" stop-opacity="0"/><stop offset=".45" stop-color="#000" stop-opacity="0"/><stop offset="1" stop-color="#000" stop-opacity=".95"/></linearGradient><linearGradient id="pb" x1="0" x2="1" y1="0" y2="1"><stop offset="0" stop-color="#3048d8"/><stop offset="1" stop-color="#101890"/></linearGradient></defs><rect x="0" y="0" width="15" height="15" fill="#000048"/><rect x="0" y="0" width="14" height="14" fill="url(#rb)"/><rect x="0" y="0" width="14" height="14" fill="url(#wb)"/><rect x="19" y="6.500" width="14.500" height="8.500" fill="#101870"/><rect x="20" y="7.500" width="12.500" height="6.500" fill="url(#pb)" stroke="#f4f4ff" stroke-width="1"/><path d="M22.500 12.500l9-10.500 2 1.700-9 10.500z" fill="#f0a020" stroke="#a05808" stroke-width=".4"/><path d="M23.500 12.800l8.500-10" stroke="#fff0c0" stroke-width=".7"/><path d="M31.500 2l1-1.200 2 1.700-1 1.200z" fill="#d8e8f8"/><rect x="39.500" y=".5" width="14" height="13" fill="#ffffff" stroke="#c8d8f0" stroke-width=".8"/><rect x="39.500" y=".5" width="14" height="2" fill="#6a9ce8"/><path d="M41.500 4v6h3M42.500 8.500l2 1.500-2 1.500M44 4.500l1.500 1.500 1.500-1.500M48 4.500l1.500 1.500 1.500-1.500" stroke="#1c2c9c" fill="none" stroke-width="1"/><rect x="45.500" y="8.500" width="6.500" height="2.500" fill="#e02020" stroke="#902020" stroke-width=".4"/></svg></div>
<div class="nb code">
<span class="l">loc_40119C:</span>
<span class="m">jmp     </span><span class="s">short </span><span class="h">loc_4011E6</span></div></div>
<div class="node" style="left:854px;top:525px;width:156px;height:131px;">
<div class="nh" style=""><svg class="a" style="left:2px;top:2px" width="56" height="16" viewBox="0 0 56 16"><defs><linearGradient id="rb" x1="0" x2="1" y1="0" y2="0"><stop offset="0" stop-color="#ff2020"/><stop offset=".2" stop-color="#fff020"/><stop offset=".4" stop-color="#20f020"/><stop offset=".6" stop-color="#20e8e8"/><stop offset=".8" stop-color="#2828ff"/><stop offset="1" stop-color="#f020f0"/></linearGradient><linearGradient id="wb" x1="0" x2="0" y1="0" y2="1"><stop offset="0" stop-color="#fff" stop-opacity=".95"/><stop offset=".3" stop-color="#fff" stop-opacity="0"/><stop offset=".45" stop-color="#000" stop-opacity="0"/><stop offset="1" stop-color="#000" stop-opacity=".95"/></linearGradient><linearGradient id="pb" x1="0" x2="1" y1="0" y2="1"><stop offset="0" stop-color="#3048d8"/><stop offset="1" stop-color="#101890"/></linearGradient></defs><rect x="0" y="0" width="15" height="15" fill="#000048"/><rect x="0" y="0" width="14" height="14" fill="url(#rb)"/><rect x="0" y="0" width="14" height="14" fill="url(#wb)"/><rect x="19" y="6.500" width="14.500" height="8.500" fill="#101870"/><rect x="20" y="7.500" width="12.500" height="6.500" fill="url(#pb)" stroke="#f4f4ff" stroke-width="1"/><path d="M22.500 12.500l9-10.500 2 1.700-9 10.500z" fill="#f0a020" stroke="#a05808" stroke-width=".4"/><path d="M23.500 12.800l8.500-10" stroke="#fff0c0" stroke-width=".7"/><path d="M31.500 2l1-1.200 2 1.700-1 1.200z" fill="#d8e8f8"/><rect x="39.500" y=".5" width="14" height="13" fill="#ffffff" stroke="#c8d8f0" stroke-width=".8"/><rect x="39.500" y=".5" width="14" height="2" fill="#6a9ce8"/><path d="M41.500 4v6h3M42.500 8.500l2 1.500-2 1.500M44 4.500l1.500 1.500 1.500-1.500M48 4.500l1.500 1.500 1.500-1.500" stroke="#1c2c9c" fill="none" stroke-width="1"/><rect x="45.500" y="8.500" width="6.500" height="2.500" fill="#e02020" stroke="#902020" stroke-width=".4"/></svg></div>
<div class="nb code">
<span class="w">     </span><span class="h">loc_4011E6</span><span class="w">:</span>
<span class="w">     </span><span class="m">pop     </span><span class="w">ebx</span>
<span class="w">     </span><span class="m">pop     </span><span class="w">edi</span>
<span class="w">     </span><span class="m">pop     </span><span class="w">esi</span>
<span class="w">     </span><span class="m">leave</span>
<span class="w">     </span><span class="m">retn    </span><span class="n">10h</span></div></div>
<div class="a" style="left:2043px;top:0;width:2px;height:679px;background:#324b53"></div>
</div>
<div class="a" style="left:515px;top:818px;width:2045px;height:21px;background:#253236;border-bottom:1px solid #34464c"></div>
<div class="a" style="left:516px;top:820px;width:66px;height:17px;background:transparent;border:1px solid #4a5a62;border-radius:3px"></div>
<div class="a " style="left:518px;top:821px;font-family:'Liberation Mono',monospace;font-size:14.700px;line-height:16px;color:#e0e0e0;white-space:pre">100.00%</div>
<div class="a" style="left:585px;top:820px;width:93px;height:17px;background:transparent;border:1px solid #4a5a62;border-radius:3px"></div>
<div class="a " style="left:587px;top:821px;font-family:'Liberation Mono',monospace;font-size:14.700px;line-height:16px;color:#e0e0e0;white-space:pre">(323,1311)</div>
<div class="a" style="left:681px;top:820px;width:93px;height:17px;background:transparent;border:1px solid #4a5a62;border-radius:3px"></div>
<div class="a " style="left:683px;top:821px;font-family:'Liberation Mono',monospace;font-size:14.700px;line-height:16px;color:#e0e0e0;white-space:pre">(1166,675)</div>
<div class="a" style="left:777px;top:820px;width:75px;height:17px;background:transparent;border:1px solid #4a5a62;border-radius:3px"></div>
<div class="a " style="left:779px;top:821px;font-family:'Liberation Mono',monospace;font-size:14.700px;line-height:16px;color:#e0e0e0;white-space:pre">0000084A</div>
<div class="a" style="left:855px;top:820px;width:192px;height:17px;background:transparent;border:1px solid #4a5a62;border-radius:3px"></div>
<div class="a " style="left:857px;top:821px;font-family:'Liberation Mono',monospace;font-size:14.700px;line-height:16px;color:#e0e0e0;white-space:pre">0040124A: WndProc+122</div>
<div class="a" style="left:1050px;top:820px;width:273px;height:17px;background:transparent;border:1px solid #4a5a62;border-radius:3px"></div>
<div class="a " style="left:1052px;top:821px;font-family:'Liberation Mono',monospace;font-size:14.700px;line-height:16px;color:#e0e0e0;white-space:pre">(Synchronized with Hex View-1)</div>
<div class="a" style="left:0px;top:839px;width:2560px;height:205px;background:#263238;"></div>
<div class="a" style="left:0px;top:841px;width:2560px;height:24px;background:#263238;border-top:1px solid #34464c;border-bottom:3px solid #303f45"></div>
<svg class="a" style="left:4px;top:844px" width="15" height="16" viewBox="0 0 15 16"><rect x=".5" y=".5" width="13" height="14.500" fill="#ffffff" stroke="#c0d0e8" stroke-width=".8"/><rect x=".5" y=".5" width="13" height="2" fill="#3a80e8"/><path d="M2.500 5.500h9M2.500 7.500h9M2.500 9.500h9M2.500 11.500h9M2.500 13.500h9" stroke="#404860" stroke-width=".8"/></svg>
<div class="a sim" style="left:24.5px;top:846px;">Output window</div>
<svg class="a" style="left:2500px;top:846px" width="56" height="12" viewBox="0 0 56 12"><rect x=".5" y="1.500" width="8" height="8" fill="none" stroke="#040404" stroke-width="1.700"/><path d="M22.500 4.500h5v5h-5zM24.500 4.500v-2.500h5v5h-2" fill="none" stroke="#040404" stroke-width="1.500"/><path d="M44.500 1.500l8 8M52.500 1.500l-8 8" stroke="#040404" stroke-width="1.800" fill="none"/></svg>
<div class="a" style="left:0;top:865px;width:2548px;height:131px;background:#1c2428;overflow:hidden"><div class="a code" style="left:7px;top:-3.500px;color:#e0e0e0">IDAPython v7.4.0 final (serial 0) (c) The IDAPython Team &lt;idapython@googlegroups.com&gt;
---------------------------------------------------------------------------------------
Using FLIRT signature: SEH for vc7-14
Propagating type information...
Function argument information has been propagated
The initial autoanalysis has been finished.
Flushing buffers, please wait...ok
Database snapshot successfully created: Snapshot of CRACKME.EXE
Command "JumpOpXref" failed</div></div>
<div class="a" style="left:2548px;top:864px;width:12px;height:132px;background:#263238;"></div>
<svg class="a" style="left:2550px;top:865px" width="6" height="6" viewBox="0 0 6 6"><rect x=".5" y=".5" width="4" height="4" fill="#e0e0e0" stroke="#d0d0d0"/></svg>
<div class="a" style="left:2549px;top:967px;width:10px;height:28px;background:#6e6e6e;border-radius:2px"></div>
<div class="a" style="left:0px;top:997px;width:2560px;height:22px;background:#263238;border-top:1px solid #34464c"></div>
<div class="a sim" style="left:6px;top:1002px;">IDC</div>
<div class="a" style="left:39px;top:998px;width:2517px;height:21px;background:#263238;border:1px solid #34464c;border-radius:2px"></div>
<div class="a" style="left:0px;top:1020px;width:2560px;height:20px;background:#263238;"></div>
<div class="a" style="left:0px;top:1022px;width:80px;height:17px;background:transparent;border:1px solid #4a5a62;border-radius:3px"></div>
<div class="a " style="left:2px;top:1024.5px;font-family:'Liberation Mono',monospace;font-size:11.670px;line-height:15px;color:#e0e0e0;white-space:pre">AU:  idle</div>
<div class="a" style="left:83px;top:1022px;width:73px;height:17px;background:transparent;border:1px solid #4a5a62;border-radius:3px"></div>
<div class="a " style="left:85px;top:1024.5px;font-family:'Liberation Mono',monospace;font-size:11.670px;line-height:15px;color:#e0e0e0;white-space:pre">Down</div>
<div class="a" style="left:159px;top:1022px;width:81px;height:17px;background:transparent;border:1px solid #4a5a62;border-radius:3px"></div>
<div class="a " style="left:161px;top:1024.5px;font-family:'Liberation Mono',monospace;font-size:11.670px;line-height:15px;color:#e0e0e0;white-space:pre">Disk: 221GB</div>
<div class="a" style="left:0px;top:1040px;width:2560px;height:4px;background:linear-gradient(90deg,#564c62 0,#564c62 1.8%,#685e76 2%,#62586e 15%,#5a5464 16%,#585260 30%,#4e4a5c 50%,#4a4658 70%,#2a2a50 82%,#1c1c44 100%);"></div>
<div class="a" style="left:492px;top:1041px;width:38px;height:3px;background:#6a6a70;"></div>
<div class="a" style="left:541px;top:1041px;width:44px;height:3px;background:#6a6a70;"></div>
<div class="a" style="left:590px;top:1041px;width:45px;height:3px;background:#6a6a70;"></div>
<div class="a" style="left:639px;top:1041px;width:45px;height:3px;background:#6a6a70;"></div>
<div class="a" style="left:688px;top:1041px;width:45px;height:3px;background:#6a6a70;"></div>
<div class="a" style="left:737px;top:1041px;width:45px;height:3px;background:#6a6a70;"></div>
<div class="a" style="left:786px;top:1041px;width:45px;height:3px;background:#6a6a70;"></div>
<div class="a" style="left:835px;top:1041px;width:45px;height:3px;background:#6a6a70;"></div>
</body></html>
